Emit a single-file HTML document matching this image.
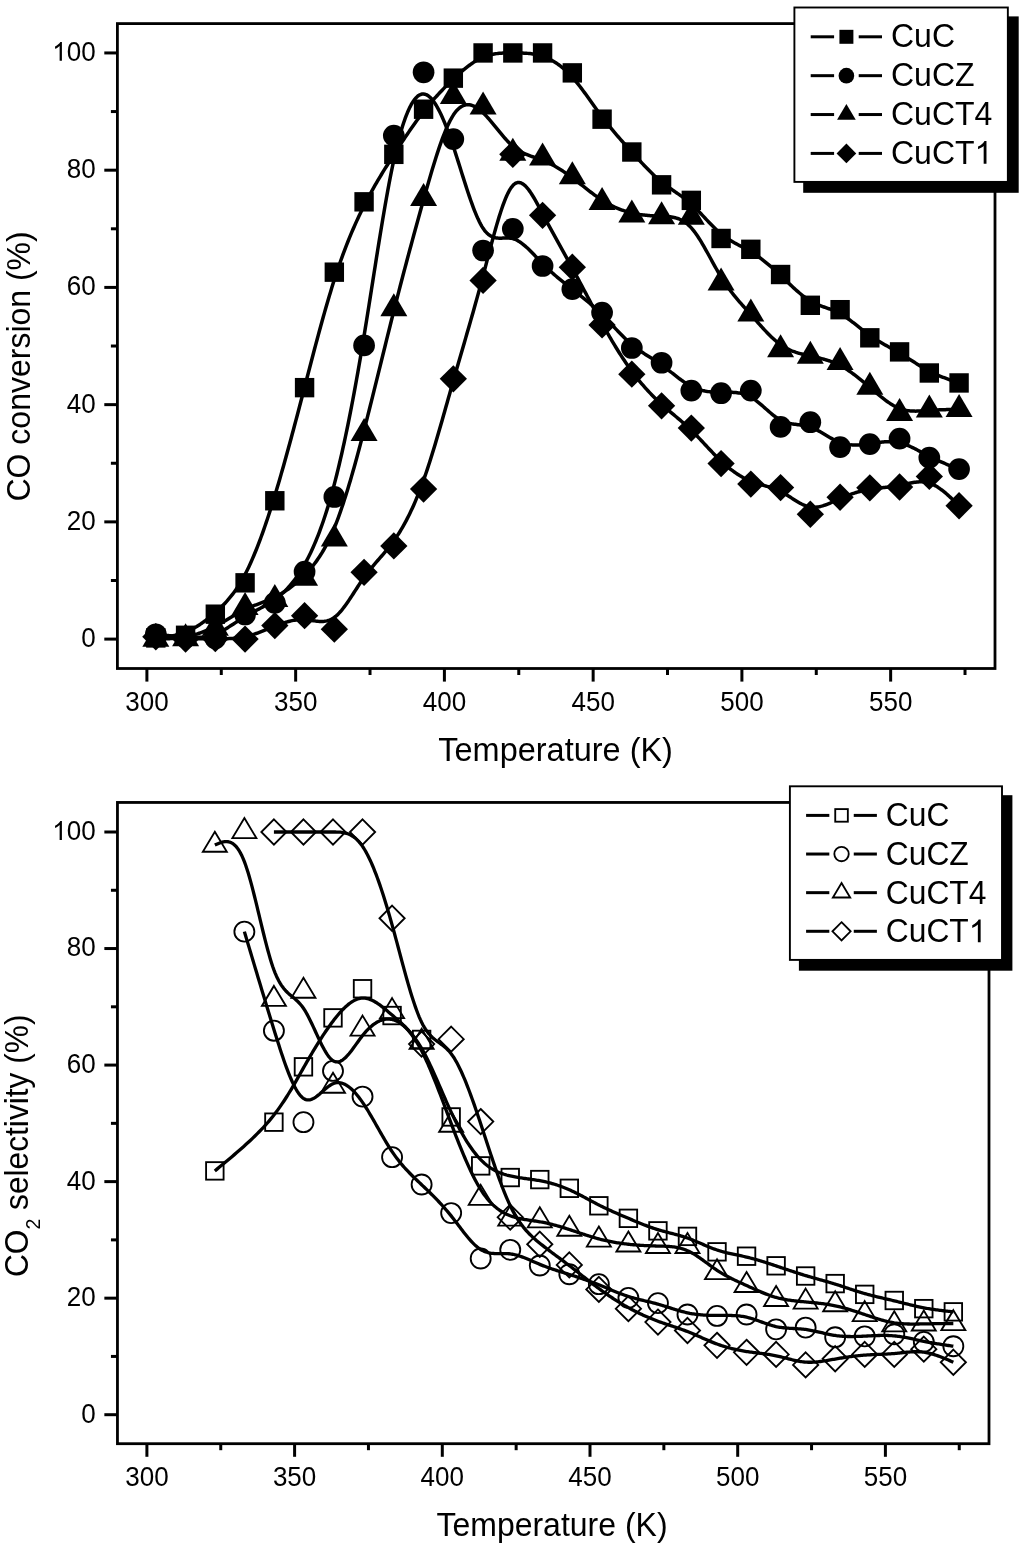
<!DOCTYPE html>
<html><head><meta charset="utf-8"><title>chart</title>
<style>
html,body{margin:0;padding:0;background:#fff;}
body{width:1024px;height:1548px;overflow:hidden;}
svg{display:block;will-change:transform;}
text{font-family:"Liberation Sans",sans-serif;fill:#000;}
.tk{font-size:26px;}
.ti{font-size:32px;}
.lg{font-size:32px;}
.sub{font-size:19.5px;}
</style></head>
<body>
<svg width="1024" height="1548" viewBox="0 0 1024 1548">
<rect width="1024" height="1548" fill="#fff"/>
<rect x="117.40" y="23.60" width="877.60" height="644.90" fill="none" stroke="#000" stroke-width="2.8"/>
<line x1="146.90" y1="668.50" x2="146.90" y2="681.60" stroke="#000" stroke-width="3"/>
<text transform="translate(146.90 710.70) scale(1 1.060)" class="tk" text-anchor="middle">300</text>
<line x1="221.28" y1="668.50" x2="221.28" y2="675.00" stroke="#000" stroke-width="3"/>
<line x1="295.65" y1="668.50" x2="295.65" y2="681.60" stroke="#000" stroke-width="3"/>
<text transform="translate(295.65 710.70) scale(1 1.060)" class="tk" text-anchor="middle">350</text>
<line x1="370.02" y1="668.50" x2="370.02" y2="675.00" stroke="#000" stroke-width="3"/>
<line x1="444.40" y1="668.50" x2="444.40" y2="681.60" stroke="#000" stroke-width="3"/>
<text transform="translate(444.40 710.70) scale(1 1.060)" class="tk" text-anchor="middle">400</text>
<line x1="518.77" y1="668.50" x2="518.77" y2="675.00" stroke="#000" stroke-width="3"/>
<line x1="593.15" y1="668.50" x2="593.15" y2="681.60" stroke="#000" stroke-width="3"/>
<text transform="translate(593.15 710.70) scale(1 1.060)" class="tk" text-anchor="middle">450</text>
<line x1="667.52" y1="668.50" x2="667.52" y2="675.00" stroke="#000" stroke-width="3"/>
<line x1="741.90" y1="668.50" x2="741.90" y2="681.60" stroke="#000" stroke-width="3"/>
<text transform="translate(741.90 710.70) scale(1 1.060)" class="tk" text-anchor="middle">500</text>
<line x1="816.27" y1="668.50" x2="816.27" y2="675.00" stroke="#000" stroke-width="3"/>
<line x1="890.65" y1="668.50" x2="890.65" y2="681.60" stroke="#000" stroke-width="3"/>
<text transform="translate(890.65 710.70) scale(1 1.060)" class="tk" text-anchor="middle">550</text>
<line x1="965.02" y1="668.50" x2="965.02" y2="675.00" stroke="#000" stroke-width="3"/>
<line x1="117.40" y1="639.10" x2="104.30" y2="639.10" stroke="#000" stroke-width="3"/>
<text transform="translate(95.60 647.00) scale(1 1.060)" class="tk" text-anchor="end">0</text>
<line x1="117.40" y1="580.49" x2="110.90" y2="580.49" stroke="#000" stroke-width="3"/>
<line x1="117.40" y1="521.87" x2="104.30" y2="521.87" stroke="#000" stroke-width="3"/>
<text transform="translate(95.60 529.77) scale(1 1.060)" class="tk" text-anchor="end">20</text>
<line x1="117.40" y1="463.25" x2="110.90" y2="463.25" stroke="#000" stroke-width="3"/>
<line x1="117.40" y1="404.64" x2="104.30" y2="404.64" stroke="#000" stroke-width="3"/>
<text transform="translate(95.60 412.54) scale(1 1.060)" class="tk" text-anchor="end">40</text>
<line x1="117.40" y1="346.02" x2="110.90" y2="346.02" stroke="#000" stroke-width="3"/>
<line x1="117.40" y1="287.41" x2="104.30" y2="287.41" stroke="#000" stroke-width="3"/>
<text transform="translate(95.60 295.31) scale(1 1.060)" class="tk" text-anchor="end">60</text>
<line x1="117.40" y1="228.80" x2="110.90" y2="228.80" stroke="#000" stroke-width="3"/>
<line x1="117.40" y1="170.18" x2="104.30" y2="170.18" stroke="#000" stroke-width="3"/>
<text transform="translate(95.60 178.08) scale(1 1.060)" class="tk" text-anchor="end">80</text>
<line x1="117.40" y1="111.56" x2="110.90" y2="111.56" stroke="#000" stroke-width="3"/>
<line x1="117.40" y1="52.95" x2="104.30" y2="52.95" stroke="#000" stroke-width="3"/>
<path transform="translate(52.22 60.85) scale(0.01270 -0.01346)" d="M763 0H583V1100Q519 1041 413 982Q307 922 223 892V1059Q369 1127 479 1224Q589 1321 638 1409H763Z" fill="#000"/>
<text transform="translate(66.68 60.85) scale(1 1.060)" class="tk" text-anchor="start">00</text>
<path d="M155.83 637.93L157.06 637.82L158.30 637.71L159.54 637.59L160.78 637.47L162.02 637.35L163.26 637.22L164.50 637.08L165.74 636.93L166.98 636.78L168.22 636.61L169.46 636.42L170.70 636.22L171.94 636.01L173.18 635.78L174.42 635.53L175.66 635.26L176.90 634.97L178.14 634.65L179.38 634.31L180.62 633.95L181.86 633.56L183.10 633.14L184.34 632.69L185.57 632.21L186.81 631.70L188.05 631.16L189.29 630.59L190.53 629.98L191.77 629.35L193.01 628.69L194.25 628.00L195.49 627.28L196.73 626.54L197.97 625.76L199.21 624.96L200.45 624.14L201.69 623.29L202.93 622.42L204.17 621.52L205.41 620.60L206.65 619.66L207.89 618.69L209.13 617.71L210.37 616.70L211.61 615.67L212.85 614.63L214.09 613.56L215.32 612.48L216.56 611.38L217.80 610.25L219.04 609.11L220.28 607.93L221.52 606.73L222.76 605.50L224.00 604.22L225.24 602.92L226.48 601.57L227.72 600.17L228.96 598.73L230.20 597.24L231.44 595.69L232.68 594.09L233.92 592.44L235.16 590.72L236.40 588.93L237.64 587.08L238.88 585.15L240.12 583.16L241.36 581.09L242.60 578.93L243.84 576.70L245.07 574.38L246.31 571.97L247.55 569.48L248.79 566.90L250.03 564.24L251.27 561.49L252.51 558.67L253.75 555.76L254.99 552.78L256.23 549.72L257.47 546.59L258.71 543.38L259.95 540.10L261.19 536.74L262.43 533.32L263.67 529.83L264.91 526.28L266.15 522.65L267.39 518.97L268.63 515.22L269.87 511.41L271.11 507.54L272.35 503.61L273.59 499.63L274.82 495.59L276.06 491.50L277.30 487.35L278.54 483.16L279.78 478.92L281.02 474.63L282.26 470.30L283.50 465.92L284.74 461.51L285.98 457.06L287.22 452.58L288.46 448.06L289.70 443.51L290.94 438.93L292.18 434.33L293.42 429.70L294.66 425.04L295.90 420.37L297.14 415.68L298.38 410.97L299.62 406.25L300.86 401.51L302.10 396.76L303.34 392.01L304.58 387.25L305.81 382.49L307.05 377.72L308.29 372.96L309.53 368.21L310.77 363.46L312.01 358.73L313.25 354.01L314.49 349.31L315.73 344.64L316.97 340.00L318.21 335.38L319.45 330.80L320.69 326.25L321.93 321.75L323.17 317.29L324.41 312.87L325.65 308.51L326.89 304.21L328.13 299.96L329.37 295.77L330.61 291.64L331.85 287.59L333.09 283.60L334.33 279.69L335.56 275.86L336.80 272.10L338.04 268.42L339.28 264.82L340.52 261.28L341.76 257.82L343.00 254.42L344.24 251.09L345.48 247.83L346.72 244.63L347.96 241.49L349.20 238.42L350.44 235.40L351.68 232.44L352.92 229.54L354.16 226.69L355.40 223.89L356.64 221.14L357.88 218.44L359.12 215.79L360.36 213.19L361.60 210.63L362.84 208.12L364.08 205.64L365.31 203.21L366.55 200.81L367.79 198.45L369.03 196.13L370.27 193.83L371.51 191.58L372.75 189.35L373.99 187.15L375.23 184.98L376.47 182.83L377.71 180.71L378.95 178.62L380.19 176.54L381.43 174.49L382.67 172.45L383.91 170.44L385.15 168.44L386.39 166.45L387.63 164.47L388.87 162.51L390.11 160.56L391.35 158.61L392.59 156.68L393.83 154.74L395.06 152.82L396.30 150.90L397.54 148.98L398.78 147.07L400.02 145.17L401.26 143.27L402.50 141.39L403.74 139.51L404.98 137.65L406.22 135.80L407.46 133.96L408.70 132.13L409.94 130.32L411.18 128.52L412.42 126.74L413.66 124.97L414.90 123.23L416.14 121.50L417.38 119.79L418.62 118.10L419.86 116.43L421.10 114.79L422.34 113.16L423.57 111.56L424.81 109.99L426.05 108.44L427.29 106.91L428.53 105.40L429.77 103.92L431.01 102.46L432.25 101.02L433.49 99.60L434.73 98.19L435.97 96.81L437.21 95.45L438.45 94.10L439.69 92.77L440.93 91.46L442.17 90.17L443.41 88.89L444.65 87.62L445.89 86.37L447.13 85.13L448.37 83.91L449.61 82.70L450.85 81.50L452.09 80.31L453.32 79.13L454.56 77.96L455.80 76.81L457.04 75.67L458.28 74.54L459.52 73.43L460.76 72.33L462.00 71.25L463.24 70.20L464.48 69.16L465.72 68.15L466.96 67.16L468.20 66.20L469.44 65.26L470.68 64.36L471.92 63.48L473.16 62.63L474.40 61.82L475.64 61.04L476.88 60.29L478.12 59.59L479.36 58.92L480.60 58.29L481.84 57.70L483.08 57.15L484.31 56.65L485.55 56.19L486.79 55.76L488.03 55.38L489.27 55.03L490.51 54.72L491.75 54.44L492.99 54.19L494.23 53.98L495.47 53.78L496.71 53.62L497.95 53.48L499.19 53.35L500.43 53.25L501.67 53.17L502.91 53.11L504.15 53.05L505.39 53.02L506.63 52.99L507.87 52.97L509.11 52.96L510.35 52.95L511.59 52.95L512.83 52.95L514.06 52.95L515.30 52.95L516.54 52.96L517.78 52.97L519.02 52.98L520.26 53.00L521.50 53.03L522.74 53.07L523.98 53.13L525.22 53.19L526.46 53.27L527.70 53.37L528.94 53.48L530.18 53.61L531.42 53.76L532.66 53.93L533.90 54.13L535.14 54.35L536.38 54.60L537.62 54.87L538.86 55.18L540.10 55.51L541.34 55.87L542.58 56.27L543.81 56.70L545.05 57.17L546.29 57.67L547.53 58.21L548.77 58.79L550.01 59.40L551.25 60.05L552.49 60.74L553.73 61.47L554.97 62.23L556.21 63.04L557.45 63.88L558.69 64.76L559.93 65.69L561.17 66.65L562.41 67.66L563.65 68.71L564.89 69.80L566.13 70.94L567.37 72.12L568.61 73.34L569.85 74.61L571.09 75.92L572.33 77.28L573.56 78.68L574.80 80.12L576.04 81.61L577.28 83.13L578.52 84.69L579.76 86.28L581.00 87.89L582.24 89.53L583.48 91.20L584.72 92.88L585.96 94.58L587.20 96.30L588.44 98.03L589.68 99.76L590.92 101.50L592.16 103.25L593.40 104.99L594.64 106.73L595.88 108.46L597.12 110.19L598.36 111.90L599.60 113.60L600.84 115.28L602.08 116.94L603.31 118.58L604.55 120.19L605.79 121.78L607.03 123.36L608.27 124.91L609.51 126.44L610.75 127.96L611.99 129.46L613.23 130.95L614.47 132.42L615.71 133.87L616.95 135.32L618.19 136.75L619.43 138.17L620.67 139.58L621.91 140.98L623.15 142.38L624.39 143.77L625.63 145.15L626.87 146.53L628.11 147.90L629.35 149.27L630.59 150.64L631.83 152.01L633.06 153.38L634.30 154.74L635.54 156.11L636.78 157.47L638.02 158.82L639.26 160.17L640.50 161.51L641.74 162.84L642.98 164.17L644.22 165.48L645.46 166.78L646.70 168.06L647.94 169.33L649.18 170.58L650.42 171.82L651.66 173.04L652.90 174.24L654.14 175.41L655.38 176.57L656.62 177.70L657.86 178.80L659.10 179.88L660.34 180.93L661.58 181.95L662.81 182.94L664.05 183.91L665.29 184.85L666.53 185.77L667.77 186.67L669.01 187.56L670.25 188.43L671.49 189.30L672.73 190.15L673.97 191.01L675.21 191.86L676.45 192.71L677.69 193.57L678.93 194.43L680.17 195.31L681.41 196.20L682.65 197.10L683.89 198.03L685.13 198.97L686.37 199.94L687.61 200.94L688.85 201.97L690.09 203.03L691.33 204.13L692.56 205.26L693.80 206.44L695.04 207.64L696.28 208.87L697.52 210.13L698.76 211.41L700.00 212.70L701.24 214.01L702.48 215.33L703.72 216.66L704.96 217.99L706.20 219.32L707.44 220.64L708.68 221.96L709.92 223.27L711.16 224.56L712.40 225.83L713.64 227.08L714.88 228.31L716.12 229.51L717.36 230.67L718.60 231.79L719.84 232.88L721.08 233.92L722.31 234.92L723.55 235.87L724.79 236.78L726.03 237.66L727.27 238.49L728.51 239.30L729.75 240.07L730.99 240.82L732.23 241.55L733.47 242.26L734.71 242.95L735.95 243.62L737.19 244.28L738.43 244.94L739.67 245.59L740.91 246.24L742.15 246.89L743.39 247.54L744.63 248.20L745.87 248.87L747.11 249.55L748.35 250.25L749.59 250.96L750.83 251.70L752.06 252.47L753.30 253.25L754.54 254.07L755.78 254.90L757.02 255.76L758.26 256.64L759.50 257.54L760.74 258.46L761.98 259.40L763.22 260.35L764.46 261.33L765.70 262.33L766.94 263.34L768.18 264.37L769.42 265.42L770.66 266.48L771.90 267.55L773.14 268.64L774.38 269.75L775.62 270.86L776.86 271.99L778.10 273.13L779.34 274.28L780.58 275.44L781.81 276.61L783.05 277.79L784.29 278.97L785.53 280.16L786.77 281.35L788.01 282.53L789.25 283.71L790.49 284.88L791.73 286.05L792.97 287.20L794.21 288.34L795.45 289.47L796.69 290.57L797.93 291.66L799.17 292.72L800.41 293.76L801.65 294.77L802.89 295.75L804.13 296.70L805.37 297.62L806.61 298.50L807.85 299.34L809.09 300.14L810.33 300.89L811.56 301.60L812.80 302.27L814.04 302.90L815.28 303.49L816.52 304.06L817.76 304.59L819.00 305.11L820.24 305.60L821.48 306.07L822.72 306.53L823.96 306.98L825.20 307.43L826.44 307.87L827.68 308.32L828.92 308.77L830.16 309.23L831.40 309.70L832.64 310.19L833.88 310.69L835.12 311.22L836.36 311.78L837.60 312.36L838.84 312.98L840.07 313.64L841.31 314.34L842.55 315.07L843.79 315.85L845.03 316.65L846.27 317.49L847.51 318.35L848.75 319.24L849.99 320.15L851.23 321.08L852.47 322.02L853.71 322.98L854.95 323.95L856.19 324.93L857.43 325.92L858.67 326.90L859.91 327.89L861.15 328.88L862.39 329.86L863.63 330.83L864.87 331.79L866.11 332.74L867.35 333.67L868.59 334.58L869.82 335.47L871.06 336.34L872.30 337.19L873.54 338.01L874.78 338.81L876.02 339.60L877.26 340.36L878.50 341.12L879.74 341.86L880.98 342.58L882.22 343.30L883.46 344.01L884.70 344.71L885.94 345.40L887.18 346.09L888.42 346.77L889.66 347.46L890.90 348.14L892.14 348.83L893.38 349.52L894.62 350.21L895.86 350.91L897.10 351.62L898.34 352.33L899.58 353.06L900.81 353.80L902.05 354.55L903.29 355.31L904.53 356.07L905.77 356.85L907.01 357.63L908.25 358.41L909.49 359.20L910.73 359.99L911.97 360.78L913.21 361.57L914.45 362.35L915.69 363.13L916.93 363.91L918.17 364.68L919.41 365.45L920.65 366.20L921.89 366.95L923.13 367.68L924.37 368.40L925.61 369.11L926.85 369.80L928.09 370.48L929.32 371.13L930.56 371.77L931.80 372.39L933.04 372.99L934.28 373.57L935.52 374.14L936.76 374.70L938.00 375.23L939.24 375.76L940.48 376.27L941.72 376.77L942.96 377.26L944.20 377.74L945.44 378.21L946.68 378.67L947.92 379.12L949.16 379.56L950.40 380.00L951.64 380.43L952.88 380.86L954.12 381.28L955.36 381.70L956.60 382.12L957.84 382.54L959.07 382.95" fill="none" stroke="#000" stroke-width="3.5" stroke-linejoin="round"/>
<path d="M155.83 634.29L157.06 634.42L158.30 634.55L159.54 634.67L160.78 634.80L162.02 634.93L163.26 635.05L164.50 635.17L165.74 635.30L166.98 635.42L168.22 635.54L169.46 635.66L170.70 635.77L171.94 635.89L173.18 636.00L174.42 636.11L175.66 636.22L176.90 636.32L178.14 636.43L179.38 636.53L180.62 636.62L181.86 636.72L183.10 636.81L184.34 636.90L185.57 636.98L186.81 637.06L188.05 637.13L189.29 637.20L190.53 637.26L191.77 637.31L193.01 637.34L194.25 637.37L195.49 637.38L196.73 637.37L197.97 637.34L199.21 637.29L200.45 637.22L201.69 637.13L202.93 637.01L204.17 636.87L205.41 636.70L206.65 636.50L207.89 636.26L209.13 636.00L210.37 635.70L211.61 635.36L212.85 634.99L214.09 634.57L215.32 634.12L216.56 633.62L217.80 633.08L219.04 632.51L220.28 631.90L221.52 631.26L222.76 630.59L224.00 629.89L225.24 629.17L226.48 628.42L227.72 627.66L228.96 626.88L230.20 626.09L231.44 625.29L232.68 624.47L233.92 623.66L235.16 622.84L236.40 622.02L237.64 621.20L238.88 620.38L240.12 619.58L241.36 618.78L242.60 618.00L243.84 617.23L245.07 616.48L246.31 615.76L247.55 615.05L248.79 614.35L250.03 613.67L251.27 613.00L252.51 612.35L253.75 611.69L254.99 611.05L256.23 610.40L257.47 609.76L258.71 609.12L259.95 608.47L261.19 607.81L262.43 607.15L263.67 606.47L264.91 605.79L266.15 605.08L267.39 604.36L268.63 603.62L269.87 602.86L271.11 602.07L272.35 601.25L273.59 600.41L274.82 599.53L276.06 598.63L277.30 597.68L278.54 596.70L279.78 595.68L281.02 594.62L282.26 593.52L283.50 592.37L284.74 591.18L285.98 589.94L287.22 588.65L288.46 587.31L289.70 585.91L290.94 584.46L292.18 582.96L293.42 581.40L294.66 579.77L295.90 578.09L297.14 576.34L298.38 574.52L299.62 572.64L300.86 570.69L302.10 568.67L303.34 566.58L304.58 564.41L305.81 562.17L307.05 559.85L308.29 557.45L309.53 554.97L310.77 552.40L312.01 549.74L313.25 546.99L314.49 544.15L315.73 541.22L316.97 538.18L318.21 535.05L319.45 531.82L320.69 528.48L321.93 525.03L323.17 521.48L324.41 517.81L325.65 514.03L326.89 510.13L328.13 506.11L329.37 501.97L330.61 497.71L331.85 493.32L333.09 488.81L334.33 484.16L335.56 479.38L336.80 474.47L338.04 469.43L339.28 464.25L340.52 458.95L341.76 453.53L343.00 447.98L344.24 442.30L345.48 436.50L346.72 430.58L347.96 424.54L349.20 418.38L350.44 412.11L351.68 405.72L352.92 399.21L354.16 392.59L355.40 385.86L356.64 379.02L357.88 372.07L359.12 365.01L360.36 357.84L361.60 350.57L362.84 343.20L364.08 335.72L365.31 328.14L366.55 320.48L367.79 312.74L369.03 304.95L370.27 297.12L371.51 289.26L372.75 281.39L373.99 273.52L375.23 265.66L376.47 257.84L377.71 250.07L378.95 242.36L380.19 234.72L381.43 227.18L382.67 219.74L383.91 212.42L385.15 205.24L386.39 198.21L387.63 191.34L388.87 184.66L390.11 178.17L391.35 171.89L392.59 165.84L393.83 160.02L395.06 154.46L396.30 149.15L397.54 144.09L398.78 139.28L400.02 134.72L401.26 130.41L402.50 126.35L403.74 122.54L404.98 118.96L406.22 115.64L407.46 112.55L408.70 109.71L409.94 107.11L411.18 104.74L412.42 102.61L413.66 100.72L414.90 99.07L416.14 97.65L417.38 96.46L418.62 95.51L419.86 94.78L421.10 94.29L422.34 94.02L423.57 93.98L424.81 94.17L426.05 94.57L427.29 95.19L428.53 96.01L429.77 97.04L431.01 98.26L432.25 99.67L433.49 101.27L434.73 103.04L435.97 104.98L437.21 107.08L438.45 109.34L439.69 111.76L440.93 114.31L442.17 117.01L443.41 119.84L444.65 122.80L445.89 125.88L447.13 129.07L448.37 132.37L449.61 135.78L450.85 139.28L452.09 142.87L453.32 146.54L454.56 150.29L455.80 154.10L457.04 157.97L458.28 161.87L459.52 165.80L460.76 169.74L462.00 173.68L463.24 177.62L464.48 181.52L465.72 185.39L466.96 189.20L468.20 192.95L469.44 196.63L470.68 200.21L471.92 203.70L473.16 207.06L474.40 210.30L475.64 213.40L476.88 216.34L478.12 219.12L479.36 221.72L480.60 224.12L481.84 226.32L483.08 228.31L484.31 230.06L485.55 231.60L486.79 232.93L488.03 234.08L489.27 235.05L490.51 235.86L491.75 236.52L492.99 237.05L494.23 237.45L495.47 237.75L496.71 237.96L497.95 238.09L499.19 238.16L500.43 238.18L501.67 238.16L502.91 238.11L504.15 238.06L505.39 238.01L506.63 237.98L507.87 237.99L509.11 238.04L510.35 238.15L511.59 238.34L512.83 238.61L514.06 238.99L515.30 239.46L516.54 240.02L517.78 240.67L519.02 241.40L520.26 242.21L521.50 243.08L522.74 244.02L523.98 245.03L525.22 246.08L526.46 247.19L527.70 248.34L528.94 249.53L530.18 250.75L531.42 252.00L532.66 253.28L533.90 254.57L535.14 255.87L536.38 257.19L537.62 258.50L538.86 259.81L540.10 261.11L541.34 262.40L542.58 263.67L543.81 264.92L545.05 266.14L546.29 267.34L547.53 268.52L548.77 269.68L550.01 270.82L551.25 271.94L552.49 273.04L553.73 274.13L554.97 275.20L556.21 276.26L557.45 277.31L558.69 278.34L559.93 279.36L561.17 280.37L562.41 281.38L563.65 282.37L564.89 283.36L566.13 284.35L567.37 285.33L568.61 286.30L569.85 287.28L571.09 288.25L572.33 289.22L573.56 290.19L574.80 291.16L576.04 292.14L577.28 293.11L578.52 294.10L579.76 295.08L581.00 296.07L582.24 297.07L583.48 298.08L584.72 299.09L585.96 300.11L587.20 301.15L588.44 302.19L589.68 303.24L590.92 304.31L592.16 305.39L593.40 306.49L594.64 307.59L595.88 308.72L597.12 309.86L598.36 311.02L599.60 312.20L600.84 313.39L602.08 314.61L603.31 315.84L604.55 317.10L605.79 318.37L607.03 319.65L608.27 320.95L609.51 322.25L610.75 323.56L611.99 324.88L613.23 326.20L614.47 327.51L615.71 328.83L616.95 330.13L618.19 331.44L619.43 332.73L620.67 334.00L621.91 335.27L623.15 336.52L624.39 337.74L625.63 338.95L626.87 340.13L628.11 341.29L629.35 342.41L630.59 343.51L631.83 344.57L633.06 345.60L634.30 346.59L635.54 347.55L636.78 348.48L638.02 349.39L639.26 350.28L640.50 351.14L641.74 351.98L642.98 352.81L644.22 353.62L645.46 354.42L646.70 355.22L647.94 356.00L649.18 356.79L650.42 357.57L651.66 358.35L652.90 359.13L654.14 359.92L655.38 360.72L656.62 361.53L657.86 362.35L659.10 363.19L660.34 364.04L661.58 364.92L662.81 365.82L664.05 366.73L665.29 367.67L666.53 368.62L667.77 369.58L669.01 370.55L670.25 371.52L671.49 372.50L672.73 373.48L673.97 374.46L675.21 375.43L676.45 376.40L677.69 377.35L678.93 378.30L680.17 379.22L681.41 380.13L682.65 381.01L683.89 381.87L685.13 382.71L686.37 383.51L687.61 384.28L688.85 385.02L690.09 385.72L691.33 386.37L692.56 386.99L693.80 387.56L695.04 388.09L696.28 388.58L697.52 389.03L698.76 389.45L700.00 389.83L701.24 390.17L702.48 390.49L703.72 390.77L704.96 391.03L706.20 391.26L707.44 391.46L708.68 391.63L709.92 391.78L711.16 391.91L712.40 392.02L713.64 392.11L714.88 392.19L716.12 392.24L717.36 392.28L718.60 392.31L719.84 392.33L721.08 392.33L722.31 392.33L723.55 392.32L724.79 392.30L726.03 392.29L727.27 392.28L728.51 392.28L729.75 392.29L730.99 392.31L732.23 392.35L733.47 392.41L734.71 392.49L735.95 392.59L737.19 392.73L738.43 392.90L739.67 393.10L740.91 393.34L742.15 393.63L743.39 393.96L744.63 394.34L745.87 394.77L747.11 395.25L748.35 395.80L749.59 396.40L750.83 397.07L752.06 397.80L753.30 398.60L754.54 399.45L755.78 400.36L757.02 401.31L758.26 402.29L759.50 403.31L760.74 404.36L761.98 405.43L763.22 406.51L764.46 407.60L765.70 408.70L766.94 409.80L768.18 410.88L769.42 411.96L770.66 413.01L771.90 414.04L773.14 415.04L774.38 416.01L775.62 416.93L776.86 417.80L778.10 418.62L779.34 419.38L780.58 420.08L781.81 420.70L783.05 421.26L784.29 421.76L785.53 422.20L786.77 422.59L788.01 422.93L789.25 423.24L790.49 423.51L791.73 423.75L792.97 423.96L794.21 424.15L795.45 424.33L796.69 424.50L797.93 424.66L799.17 424.83L800.41 425.00L801.65 425.18L802.89 425.38L804.13 425.59L805.37 425.84L806.61 426.11L807.85 426.42L809.09 426.77L810.33 427.17L811.56 427.62L812.80 428.11L814.04 428.65L815.28 429.23L816.52 429.84L817.76 430.48L819.00 431.15L820.24 431.84L821.48 432.55L822.72 433.27L823.96 434.00L825.20 434.74L826.44 435.48L827.68 436.22L828.92 436.95L830.16 437.67L831.40 438.37L832.64 439.06L833.88 439.72L835.12 440.35L836.36 440.95L837.60 441.51L838.84 442.04L840.07 442.52L841.31 442.95L842.55 443.33L843.79 443.67L845.03 443.97L846.27 444.22L847.51 444.44L848.75 444.62L849.99 444.76L851.23 444.87L852.47 444.94L853.71 444.99L854.95 445.01L856.19 445.00L857.43 444.97L858.67 444.91L859.91 444.84L861.15 444.74L862.39 444.63L863.63 444.50L864.87 444.36L866.11 444.21L867.35 444.05L868.59 443.88L869.82 443.71L871.06 443.53L872.30 443.35L873.54 443.17L874.78 442.99L876.02 442.81L877.26 442.64L878.50 442.48L879.74 442.33L880.98 442.19L882.22 442.06L883.46 441.95L884.70 441.85L885.94 441.78L887.18 441.72L888.42 441.69L889.66 441.68L890.90 441.70L892.14 441.75L893.38 441.83L894.62 441.94L895.86 442.09L897.10 442.27L898.34 442.50L899.58 442.76L900.81 443.06L902.05 443.41L903.29 443.79L904.53 444.21L905.77 444.66L907.01 445.14L908.25 445.65L909.49 446.18L910.73 446.74L911.97 447.32L913.21 447.92L914.45 448.54L915.69 449.17L916.93 449.82L918.17 450.47L919.41 451.13L920.65 451.80L921.89 452.47L923.13 453.14L924.37 453.81L925.61 454.48L926.85 455.14L928.09 455.79L929.32 456.43L930.56 457.05L931.80 457.67L933.04 458.27L934.28 458.86L935.52 459.44L936.76 460.01L938.00 460.57L939.24 461.12L940.48 461.67L941.72 462.20L942.96 462.73L944.20 463.24L945.44 463.76L946.68 464.26L947.92 464.76L949.16 465.26L950.40 465.75L951.64 466.24L952.88 466.72L954.12 467.21L955.36 467.69L956.60 468.16L957.84 468.64L959.07 469.12" fill="none" stroke="#000" stroke-width="3.5" stroke-linejoin="round"/>
<path d="M155.83 639.10L157.06 639.08L158.30 639.05L159.54 639.02L160.78 638.99L162.02 638.96L163.26 638.93L164.50 638.89L165.74 638.84L166.98 638.79L168.22 638.74L169.46 638.67L170.70 638.60L171.94 638.52L173.18 638.43L174.42 638.33L175.66 638.22L176.90 638.09L178.14 637.96L179.38 637.81L180.62 637.65L181.86 637.47L183.10 637.28L184.34 637.08L185.57 636.85L186.81 636.61L188.05 636.35L189.29 636.08L190.53 635.79L191.77 635.48L193.01 635.15L194.25 634.81L195.49 634.44L196.73 634.06L197.97 633.67L199.21 633.25L200.45 632.82L201.69 632.38L202.93 631.91L204.17 631.43L205.41 630.93L206.65 630.41L207.89 629.87L209.13 629.32L210.37 628.75L211.61 628.17L212.85 627.56L214.09 626.94L215.32 626.30L216.56 625.65L217.80 624.98L219.04 624.29L220.28 623.59L221.52 622.88L222.76 622.17L224.00 621.44L225.24 620.71L226.48 619.97L227.72 619.23L228.96 618.49L230.20 617.75L231.44 617.02L232.68 616.28L233.92 615.55L235.16 614.83L236.40 614.12L237.64 613.42L238.88 612.72L240.12 612.05L241.36 611.38L242.60 610.74L243.84 610.11L245.07 609.50L246.31 608.91L247.55 608.34L248.79 607.79L250.03 607.26L251.27 606.74L252.51 606.23L253.75 605.73L254.99 605.24L256.23 604.76L257.47 604.28L258.71 603.81L259.95 603.33L261.19 602.86L262.43 602.38L263.67 601.90L264.91 601.42L266.15 600.92L267.39 600.42L268.63 599.90L269.87 599.38L271.11 598.83L272.35 598.27L273.59 597.69L274.82 597.09L276.06 596.47L277.30 595.83L278.54 595.16L279.78 594.47L281.02 593.75L282.26 593.01L283.50 592.25L284.74 591.46L285.98 590.64L287.22 589.80L288.46 588.94L289.70 588.04L290.94 587.12L292.18 586.18L293.42 585.20L294.66 584.20L295.90 583.17L297.14 582.10L298.38 581.01L299.62 579.89L300.86 578.75L302.10 577.56L303.34 576.35L304.58 575.11L305.81 573.84L307.05 572.53L308.29 571.18L309.53 569.79L310.77 568.36L312.01 566.87L313.25 565.34L314.49 563.74L315.73 562.09L316.97 560.38L318.21 558.60L319.45 556.75L320.69 554.82L321.93 552.82L323.17 550.74L324.41 548.58L325.65 546.32L326.89 543.98L328.13 541.55L329.37 539.01L330.61 536.38L331.85 533.64L333.09 530.79L334.33 527.83L335.56 524.76L336.80 521.57L338.04 518.28L339.28 514.88L340.52 511.38L341.76 507.78L343.00 504.09L344.24 500.31L345.48 496.44L346.72 492.48L347.96 488.45L349.20 484.33L350.44 480.14L351.68 475.88L352.92 471.56L354.16 467.17L355.40 462.71L356.64 458.21L357.88 453.64L359.12 449.03L360.36 444.37L361.60 439.66L362.84 434.92L364.08 430.14L365.31 425.32L366.55 420.48L367.79 415.60L369.03 410.70L370.27 405.77L371.51 400.83L372.75 395.86L373.99 390.88L375.23 385.88L376.47 380.88L377.71 375.86L378.95 370.84L380.19 365.81L381.43 360.78L382.67 355.76L383.91 350.73L385.15 345.71L386.39 340.70L387.63 335.70L388.87 330.72L390.11 325.75L391.35 320.79L392.59 315.86L393.83 310.95L395.06 306.07L396.30 301.21L397.54 296.38L398.78 291.57L400.02 286.78L401.26 282.01L402.50 277.27L403.74 272.55L404.98 267.86L406.22 263.18L407.46 258.52L408.70 253.89L409.94 249.27L411.18 244.68L412.42 240.10L413.66 235.54L414.90 231.00L416.14 226.48L417.38 221.97L418.62 217.48L419.86 213.01L421.10 208.55L422.34 204.11L423.57 199.68L424.81 195.27L426.05 190.88L427.29 186.52L428.53 182.20L429.77 177.92L431.01 173.69L432.25 169.52L433.49 165.42L434.73 161.39L435.97 157.45L437.21 153.59L438.45 149.84L439.69 146.18L440.93 142.64L442.17 139.22L443.41 135.93L444.65 132.77L445.89 129.76L447.13 126.89L448.37 124.18L449.61 121.64L450.85 119.27L452.09 117.08L453.32 115.08L454.56 113.27L455.80 111.66L457.04 110.22L458.28 108.97L459.52 107.88L460.76 106.97L462.00 106.22L463.24 105.62L464.48 105.18L465.72 104.88L466.96 104.72L468.20 104.69L469.44 104.79L470.68 105.02L471.92 105.36L473.16 105.82L474.40 106.38L475.64 107.05L476.88 107.80L478.12 108.65L479.36 109.59L480.60 110.60L481.84 111.68L483.08 112.83L484.31 114.05L485.55 115.32L486.79 116.64L488.03 118.01L489.27 119.42L490.51 120.86L491.75 122.33L492.99 123.82L494.23 125.33L495.47 126.85L496.71 128.38L497.95 129.91L499.19 131.43L500.43 132.94L501.67 134.44L502.91 135.91L504.15 137.36L505.39 138.77L506.63 140.15L507.87 141.48L509.11 142.76L510.35 143.98L511.59 145.15L512.83 146.25L514.06 147.27L515.30 148.23L516.54 149.13L517.78 149.96L519.02 150.74L520.26 151.46L521.50 152.14L522.74 152.78L523.98 153.37L525.22 153.93L526.46 154.45L527.70 154.95L528.94 155.43L530.18 155.88L531.42 156.32L532.66 156.75L533.90 157.16L535.14 157.58L536.38 157.99L537.62 158.41L538.86 158.84L540.10 159.28L541.34 159.74L542.58 160.22L543.81 160.72L545.05 161.24L546.29 161.79L547.53 162.36L548.77 162.95L550.01 163.57L551.25 164.20L552.49 164.86L553.73 165.54L554.97 166.24L556.21 166.95L557.45 167.69L558.69 168.44L559.93 169.21L561.17 170.00L562.41 170.81L563.65 171.63L564.89 172.47L566.13 173.32L567.37 174.19L568.61 175.07L569.85 175.97L571.09 176.88L572.33 177.80L573.56 178.73L574.80 179.68L576.04 180.63L577.28 181.59L578.52 182.56L579.76 183.53L581.00 184.51L582.24 185.49L583.48 186.47L584.72 187.44L585.96 188.42L587.20 189.39L588.44 190.35L589.68 191.31L590.92 192.26L592.16 193.20L593.40 194.13L594.64 195.04L595.88 195.94L597.12 196.82L598.36 197.69L599.60 198.54L600.84 199.37L602.08 200.17L603.31 200.95L604.55 201.71L605.79 202.45L607.03 203.16L608.27 203.85L609.51 204.52L610.75 205.17L611.99 205.79L613.23 206.39L614.47 206.97L615.71 207.53L616.95 208.07L618.19 208.59L619.43 209.09L620.67 209.56L621.91 210.02L623.15 210.46L624.39 210.87L625.63 211.27L626.87 211.65L628.11 212.01L629.35 212.35L630.59 212.67L631.83 212.97L633.06 213.25L634.30 213.52L635.54 213.77L636.78 214.00L638.02 214.22L639.26 214.42L640.50 214.61L641.74 214.79L642.98 214.95L644.22 215.10L645.46 215.24L646.70 215.36L647.94 215.48L649.18 215.59L650.42 215.69L651.66 215.78L652.90 215.86L654.14 215.94L655.38 216.01L656.62 216.07L657.86 216.13L659.10 216.19L660.34 216.24L661.58 216.29L662.81 216.34L664.05 216.39L665.29 216.45L666.53 216.52L667.77 216.61L669.01 216.72L670.25 216.86L671.49 217.02L672.73 217.23L673.97 217.48L675.21 217.77L676.45 218.11L677.69 218.51L678.93 218.97L680.17 219.49L681.41 220.08L682.65 220.75L683.89 221.50L685.13 222.33L686.37 223.25L687.61 224.26L688.85 225.38L690.09 226.59L691.33 227.92L692.56 229.35L693.80 230.89L695.04 232.53L696.28 234.26L697.52 236.08L698.76 237.97L700.00 239.93L701.24 241.95L702.48 244.03L703.72 246.16L704.96 248.33L706.20 250.53L707.44 252.76L708.68 255.01L709.92 257.27L711.16 259.53L712.40 261.79L713.64 264.05L714.88 266.28L716.12 268.49L717.36 270.67L718.60 272.82L719.84 274.91L721.08 276.96L722.31 278.94L723.55 280.87L724.79 282.74L726.03 284.57L727.27 286.34L728.51 288.07L729.75 289.75L730.99 291.40L732.23 293.00L733.47 294.58L734.71 296.12L735.95 297.63L737.19 299.12L738.43 300.58L739.67 302.02L740.91 303.45L742.15 304.86L743.39 306.26L744.63 307.65L745.87 309.03L747.11 310.42L748.35 311.80L749.59 313.18L750.83 314.57L752.06 315.96L753.30 317.37L754.54 318.77L755.78 320.18L757.02 321.58L758.26 322.98L759.50 324.37L760.74 325.76L761.98 327.13L763.22 328.49L764.46 329.83L765.70 331.15L766.94 332.45L768.18 333.73L769.42 334.98L770.66 336.21L771.90 337.40L773.14 338.55L774.38 339.68L775.62 340.76L776.86 341.80L778.10 342.80L779.34 343.75L780.58 344.66L781.81 345.51L783.05 346.32L784.29 347.08L785.53 347.79L786.77 348.46L788.01 349.09L789.25 349.69L790.49 350.24L791.73 350.77L792.97 351.26L794.21 351.72L795.45 352.16L796.69 352.56L797.93 352.95L799.17 353.31L800.41 353.66L801.65 353.99L802.89 354.30L804.13 354.60L805.37 354.89L806.61 355.17L807.85 355.45L809.09 355.72L810.33 355.99L811.56 356.26L812.80 356.53L814.04 356.80L815.28 357.08L816.52 357.36L817.76 357.65L819.00 357.95L820.24 358.25L821.48 358.57L822.72 358.90L823.96 359.24L825.20 359.59L826.44 359.96L827.68 360.35L828.92 360.76L830.16 361.19L831.40 361.63L832.64 362.10L833.88 362.60L835.12 363.12L836.36 363.66L837.60 364.23L838.84 364.83L840.07 365.47L841.31 366.13L842.55 366.82L843.79 367.54L845.03 368.29L846.27 369.07L847.51 369.87L848.75 370.70L849.99 371.55L851.23 372.42L852.47 373.32L853.71 374.23L854.95 375.16L856.19 376.11L857.43 377.08L858.67 378.05L859.91 379.05L861.15 380.05L862.39 381.07L863.63 382.10L864.87 383.14L866.11 384.18L867.35 385.23L868.59 386.29L869.82 387.35L871.06 388.41L872.30 389.48L873.54 390.54L874.78 391.60L876.02 392.65L877.26 393.70L878.50 394.73L879.74 395.75L880.98 396.76L882.22 397.74L883.46 398.71L884.70 399.66L885.94 400.58L887.18 401.47L888.42 402.34L889.66 403.17L890.90 403.98L892.14 404.74L893.38 405.47L894.62 406.15L895.86 406.80L897.10 407.40L898.34 407.95L899.58 408.45L900.81 408.90L902.05 409.30L903.29 409.66L904.53 409.97L905.77 410.23L907.01 410.46L908.25 410.65L909.49 410.80L910.73 410.92L911.97 411.01L913.21 411.08L914.45 411.11L915.69 411.13L916.93 411.12L918.17 411.09L919.41 411.05L920.65 410.99L921.89 410.92L923.13 410.85L924.37 410.76L925.61 410.67L926.85 410.58L928.09 410.49L929.32 410.40L930.56 410.32L931.80 410.24L933.04 410.17L934.28 410.10L935.52 410.04L936.76 409.97L938.00 409.92L939.24 409.86L940.48 409.81L941.72 409.77L942.96 409.72L944.20 409.68L945.44 409.64L946.68 409.61L947.92 409.57L949.16 409.54L950.40 409.51L951.64 409.48L952.88 409.46L954.12 409.43L955.36 409.40L956.60 409.38L957.84 409.35L959.07 409.33" fill="none" stroke="#000" stroke-width="3.5" stroke-linejoin="round"/>
<path d="M155.83 636.76L157.06 636.85L158.30 636.95L159.54 637.05L160.78 637.14L162.02 637.24L163.26 637.33L164.50 637.43L165.74 637.52L166.98 637.61L168.22 637.70L169.46 637.78L170.70 637.87L171.94 637.95L173.18 638.03L174.42 638.10L175.66 638.17L176.90 638.24L178.14 638.31L179.38 638.37L180.62 638.43L181.86 638.48L183.10 638.53L184.34 638.57L185.57 638.61L186.81 638.65L188.05 638.68L189.29 638.70L190.53 638.72L191.77 638.74L193.01 638.75L194.25 638.76L195.49 638.77L196.73 638.77L197.97 638.77L199.21 638.77L200.45 638.77L201.69 638.77L202.93 638.76L204.17 638.76L205.41 638.75L206.65 638.74L207.89 638.74L209.13 638.73L210.37 638.72L211.61 638.72L212.85 638.71L214.09 638.71L215.32 638.71L216.56 638.71L217.80 638.71L219.04 638.71L220.28 638.71L221.52 638.71L222.76 638.71L224.00 638.70L225.24 638.68L226.48 638.66L227.72 638.63L228.96 638.59L230.20 638.54L231.44 638.48L232.68 638.40L233.92 638.32L235.16 638.22L236.40 638.10L237.64 637.97L238.88 637.82L240.12 637.65L241.36 637.46L242.60 637.25L243.84 637.01L245.07 636.76L246.31 636.47L247.55 636.17L248.79 635.85L250.03 635.50L251.27 635.13L252.51 634.75L253.75 634.35L254.99 633.93L256.23 633.50L257.47 633.06L258.71 632.60L259.95 632.14L261.19 631.66L262.43 631.18L263.67 630.69L264.91 630.20L266.15 629.70L267.39 629.20L268.63 628.70L269.87 628.19L271.11 627.69L272.35 627.19L273.59 626.70L274.82 626.20L276.06 625.72L277.30 625.24L278.54 624.77L279.78 624.32L281.02 623.87L282.26 623.44L283.50 623.02L284.74 622.62L285.98 622.23L287.22 621.87L288.46 621.52L289.70 621.20L290.94 620.90L292.18 620.62L293.42 620.38L294.66 620.16L295.90 619.96L297.14 619.80L298.38 619.67L299.62 619.58L300.86 619.52L302.10 619.49L303.34 619.51L304.58 619.56L305.81 619.65L307.05 619.78L308.29 619.93L309.53 620.11L310.77 620.30L312.01 620.49L313.25 620.68L314.49 620.87L315.73 621.05L316.97 621.20L318.21 621.33L319.45 621.42L320.69 621.47L321.93 621.47L323.17 621.42L324.41 621.31L325.65 621.13L326.89 620.88L328.13 620.55L329.37 620.12L330.61 619.60L331.85 618.98L333.09 618.26L334.33 617.41L335.56 616.45L336.80 615.37L338.04 614.18L339.28 612.90L340.52 611.52L341.76 610.06L343.00 608.51L344.24 606.90L345.48 605.22L346.72 603.49L347.96 601.70L349.20 599.88L350.44 598.02L351.68 596.13L352.92 594.22L354.16 592.30L355.40 590.38L356.64 588.45L357.88 586.54L359.12 584.64L360.36 582.77L361.60 580.92L362.84 579.12L364.08 577.36L365.31 575.65L366.55 573.99L367.79 572.38L369.03 570.80L370.27 569.26L371.51 567.75L372.75 566.27L373.99 564.80L375.23 563.36L376.47 561.93L377.71 560.51L378.95 559.09L380.19 557.67L381.43 556.25L382.67 554.82L383.91 553.38L385.15 551.92L386.39 550.43L387.63 548.92L388.87 547.38L390.11 545.81L391.35 544.19L392.59 542.53L393.83 540.82L395.06 539.06L396.30 537.25L397.54 535.37L398.78 533.45L400.02 531.46L401.26 529.41L402.50 527.29L403.74 525.12L404.98 522.87L406.22 520.56L407.46 518.18L408.70 515.73L409.94 513.20L411.18 510.60L412.42 507.93L413.66 505.18L414.90 502.34L416.14 499.43L417.38 496.43L418.62 493.35L419.86 490.19L421.10 486.93L422.34 483.59L423.57 480.16L424.81 476.63L426.05 473.02L427.29 469.32L428.53 465.54L429.77 461.69L431.01 457.78L432.25 453.79L433.49 449.75L434.73 445.65L435.97 441.51L437.21 437.31L438.45 433.08L439.69 428.81L440.93 424.51L442.17 420.18L443.41 415.83L444.65 411.46L445.89 407.08L447.13 402.70L448.37 398.30L449.61 393.92L450.85 389.53L452.09 385.16L453.32 380.80L454.56 376.47L455.80 372.15L457.04 367.84L458.28 363.55L459.52 359.26L460.76 354.98L462.00 350.71L463.24 346.43L464.48 342.16L465.72 337.87L466.96 333.58L468.20 329.28L469.44 324.97L470.68 320.64L471.92 316.29L473.16 311.91L474.40 307.51L475.64 303.09L476.88 298.63L478.12 294.14L479.36 289.61L480.60 285.05L481.84 280.44L483.08 275.78L484.31 271.09L485.55 266.36L486.79 261.61L488.03 256.86L489.27 252.13L490.51 247.42L491.75 242.76L492.99 238.16L494.23 233.64L495.47 229.21L496.71 224.89L497.95 220.69L499.19 216.62L500.43 212.72L501.67 208.98L502.91 205.42L504.15 202.07L505.39 198.93L506.63 196.03L507.87 193.37L509.11 190.97L510.35 188.86L511.59 187.03L512.83 185.52L514.06 184.32L515.30 183.44L516.54 182.85L517.78 182.54L519.02 182.50L520.26 182.72L521.50 183.17L522.74 183.85L523.98 184.74L525.22 185.83L526.46 187.10L527.70 188.54L528.94 190.13L530.18 191.87L531.42 193.73L532.66 195.70L533.90 197.77L535.14 199.92L536.38 202.14L537.62 204.42L538.86 206.74L540.10 209.09L541.34 211.44L542.58 213.80L543.81 216.14L545.05 218.47L546.29 220.79L547.53 223.09L548.77 225.38L550.01 227.66L551.25 229.93L552.49 232.19L553.73 234.45L554.97 236.70L556.21 238.94L557.45 241.18L558.69 243.42L559.93 245.66L561.17 247.89L562.41 250.13L563.65 252.37L564.89 254.61L566.13 256.85L567.37 259.10L568.61 261.36L569.85 263.62L571.09 265.89L572.33 268.16L573.56 270.45L574.80 272.75L576.04 275.06L577.28 277.37L578.52 279.69L579.76 282.01L581.00 284.34L582.24 286.67L583.48 289.00L584.72 291.34L585.96 293.67L587.20 296.00L588.44 298.33L589.68 300.66L590.92 302.98L592.16 305.29L593.40 307.60L594.64 309.91L595.88 312.20L597.12 314.49L598.36 316.76L599.60 319.02L600.84 321.27L602.08 323.51L603.31 325.73L604.55 327.93L605.79 330.12L607.03 332.30L608.27 334.45L609.51 336.59L610.75 338.71L611.99 340.81L613.23 342.89L614.47 344.95L615.71 346.98L616.95 349.00L618.19 350.99L619.43 352.96L620.67 354.91L621.91 356.83L623.15 358.72L624.39 360.59L625.63 362.44L626.87 364.25L628.11 366.04L629.35 367.80L630.59 369.53L631.83 371.23L633.06 372.90L634.30 374.54L635.54 376.15L636.78 377.73L638.02 379.29L639.26 380.81L640.50 382.31L641.74 383.78L642.98 385.23L644.22 386.65L645.46 388.05L646.70 389.42L647.94 390.77L649.18 392.10L650.42 393.41L651.66 394.69L652.90 395.95L654.14 397.19L655.38 398.42L656.62 399.62L657.86 400.80L659.10 401.97L660.34 403.12L661.58 404.25L662.81 405.36L664.05 406.47L665.29 407.55L666.53 408.63L667.77 409.70L669.01 410.76L670.25 411.81L671.49 412.86L672.73 413.90L673.97 414.94L675.21 415.98L676.45 417.03L677.69 418.08L678.93 419.13L680.17 420.19L681.41 421.25L682.65 422.33L683.89 423.42L685.13 424.52L686.37 425.64L687.61 426.77L688.85 427.92L690.09 429.09L691.33 430.28L692.56 431.50L693.80 432.73L695.04 433.99L696.28 435.26L697.52 436.54L698.76 437.84L700.00 439.15L701.24 440.47L702.48 441.79L703.72 443.12L704.96 444.45L706.20 445.78L707.44 447.11L708.68 448.44L709.92 449.76L711.16 451.07L712.40 452.37L713.64 453.67L714.88 454.94L716.12 456.21L717.36 457.45L718.60 458.68L719.84 459.88L721.08 461.06L722.31 462.21L723.55 463.34L724.79 464.44L726.03 465.51L727.27 466.56L728.51 467.58L729.75 468.58L730.99 469.54L732.23 470.48L733.47 471.40L734.71 472.28L735.95 473.14L737.19 473.97L738.43 474.77L739.67 475.55L740.91 476.29L742.15 477.01L743.39 477.70L744.63 478.36L745.87 478.99L747.11 479.60L748.35 480.17L749.59 480.71L750.83 481.23L752.06 481.72L753.30 482.18L754.54 482.61L755.78 483.03L757.02 483.43L758.26 483.81L759.50 484.18L760.74 484.54L761.98 484.89L763.22 485.25L764.46 485.60L765.70 485.95L766.94 486.31L768.18 486.68L769.42 487.05L770.66 487.45L771.90 487.86L773.14 488.28L774.38 488.74L775.62 489.21L776.86 489.72L778.10 490.26L779.34 490.83L780.58 491.44L781.81 492.09L783.05 492.77L784.29 493.48L785.53 494.22L786.77 494.99L788.01 495.76L789.25 496.55L790.49 497.34L791.73 498.14L792.97 498.93L794.21 499.72L795.45 500.49L796.69 501.24L797.93 501.97L799.17 502.68L800.41 503.35L801.65 503.98L802.89 504.57L804.13 505.12L805.37 505.61L806.61 506.05L807.85 506.42L809.09 506.73L810.33 506.97L811.56 507.14L812.80 507.23L814.04 507.25L815.28 507.21L816.52 507.11L817.76 506.95L819.00 506.74L820.24 506.47L821.48 506.17L822.72 505.81L823.96 505.42L825.20 505.00L826.44 504.54L827.68 504.06L828.92 503.55L830.16 503.02L831.40 502.48L832.64 501.92L833.88 501.36L835.12 500.79L836.36 500.21L837.60 499.64L838.84 499.08L840.07 498.52L841.31 497.98L842.55 497.45L843.79 496.93L845.03 496.43L846.27 495.94L847.51 495.47L848.75 495.00L849.99 494.55L851.23 494.12L852.47 493.70L853.71 493.29L854.95 492.90L856.19 492.52L857.43 492.15L858.67 491.80L859.91 491.47L861.15 491.14L862.39 490.84L863.63 490.54L864.87 490.26L866.11 490.00L867.35 489.75L868.59 489.51L869.82 489.29L871.06 489.08L872.30 488.89L873.54 488.71L874.78 488.54L876.02 488.38L877.26 488.23L878.50 488.08L879.74 487.94L880.98 487.80L882.22 487.67L883.46 487.54L884.70 487.41L885.94 487.28L887.18 487.14L888.42 487.00L889.66 486.86L890.90 486.71L892.14 486.56L893.38 486.39L894.62 486.21L895.86 486.03L897.10 485.83L898.34 485.61L899.58 485.38L900.81 485.14L902.05 484.88L903.29 484.61L904.53 484.33L905.77 484.06L907.01 483.78L908.25 483.51L909.49 483.25L910.73 482.99L911.97 482.76L913.21 482.54L914.45 482.35L915.69 482.18L916.93 482.04L918.17 481.94L919.41 481.87L920.65 481.84L921.89 481.86L923.13 481.92L924.37 482.04L925.61 482.21L926.85 482.44L928.09 482.73L929.32 483.09L930.56 483.51L931.80 484.00L933.04 484.56L934.28 485.17L935.52 485.85L936.76 486.57L938.00 487.35L939.24 488.18L940.48 489.06L941.72 489.97L942.96 490.93L944.20 491.93L945.44 492.96L946.68 494.02L947.92 495.11L949.16 496.23L950.40 497.37L951.64 498.53L952.88 499.71L954.12 500.90L955.36 502.10L956.60 503.31L957.84 504.53L959.07 505.75" fill="none" stroke="#000" stroke-width="3.5" stroke-linejoin="round"/>
<rect x="146.13" y="628.23" width="19.40" height="19.40" fill="#000"/>
<rect x="175.88" y="625.59" width="19.40" height="19.40" fill="#000"/>
<rect x="205.62" y="604.49" width="19.40" height="19.40" fill="#000"/>
<rect x="235.38" y="573.13" width="19.40" height="19.40" fill="#000"/>
<rect x="265.12" y="491.07" width="19.40" height="19.40" fill="#000"/>
<rect x="294.88" y="377.94" width="19.40" height="19.40" fill="#000"/>
<rect x="324.63" y="262.47" width="19.40" height="19.40" fill="#000"/>
<rect x="354.38" y="192.13" width="19.40" height="19.40" fill="#000"/>
<rect x="384.13" y="144.65" width="19.40" height="19.40" fill="#000"/>
<rect x="413.88" y="99.52" width="19.40" height="19.40" fill="#000"/>
<rect x="443.63" y="68.45" width="19.40" height="19.40" fill="#000"/>
<rect x="473.38" y="43.25" width="19.40" height="19.40" fill="#000"/>
<rect x="503.13" y="43.25" width="19.40" height="19.40" fill="#000"/>
<rect x="532.88" y="43.25" width="19.40" height="19.40" fill="#000"/>
<rect x="562.62" y="63.18" width="19.40" height="19.40" fill="#000"/>
<rect x="592.38" y="109.48" width="19.40" height="19.40" fill="#000"/>
<rect x="622.12" y="142.31" width="19.40" height="19.40" fill="#000"/>
<rect x="651.88" y="175.13" width="19.40" height="19.40" fill="#000"/>
<rect x="681.62" y="190.67" width="19.40" height="19.40" fill="#000"/>
<rect x="711.38" y="228.77" width="19.40" height="19.40" fill="#000"/>
<rect x="741.12" y="239.61" width="19.40" height="19.40" fill="#000"/>
<rect x="770.88" y="264.81" width="19.40" height="19.40" fill="#000"/>
<rect x="800.62" y="295.59" width="19.40" height="19.40" fill="#000"/>
<rect x="830.38" y="299.98" width="19.40" height="19.40" fill="#000"/>
<rect x="860.12" y="328.12" width="19.40" height="19.40" fill="#000"/>
<rect x="889.88" y="342.19" width="19.40" height="19.40" fill="#000"/>
<rect x="919.62" y="363.29" width="19.40" height="19.40" fill="#000"/>
<rect x="949.38" y="373.25" width="19.40" height="19.40" fill="#000"/>
<circle cx="155.83" cy="634.29" r="10.85" fill="#000"/>
<circle cx="185.58" cy="637.34" r="10.85" fill="#000"/>
<circle cx="215.32" cy="638.22" r="10.85" fill="#000"/>
<circle cx="245.07" cy="614.48" r="10.85" fill="#000"/>
<circle cx="274.82" cy="602.76" r="10.85" fill="#000"/>
<circle cx="304.58" cy="571.69" r="10.85" fill="#000"/>
<circle cx="334.33" cy="496.96" r="10.85" fill="#000"/>
<circle cx="364.08" cy="345.44" r="10.85" fill="#000"/>
<circle cx="393.83" cy="135.60" r="10.85" fill="#000"/>
<circle cx="423.58" cy="72.29" r="10.85" fill="#000"/>
<circle cx="453.33" cy="139.11" r="10.85" fill="#000"/>
<circle cx="483.08" cy="250.48" r="10.85" fill="#000"/>
<circle cx="512.83" cy="228.80" r="10.85" fill="#000"/>
<circle cx="542.58" cy="266.02" r="10.85" fill="#000"/>
<circle cx="572.33" cy="289.17" r="10.85" fill="#000"/>
<circle cx="602.08" cy="312.61" r="10.85" fill="#000"/>
<circle cx="631.83" cy="348.02" r="10.85" fill="#000"/>
<circle cx="661.58" cy="362.73" r="10.85" fill="#000"/>
<circle cx="691.33" cy="390.57" r="10.85" fill="#000"/>
<circle cx="721.08" cy="393.21" r="10.85" fill="#000"/>
<circle cx="750.83" cy="390.57" r="10.85" fill="#000"/>
<circle cx="780.58" cy="426.91" r="10.85" fill="#000"/>
<circle cx="810.33" cy="422.22" r="10.85" fill="#000"/>
<circle cx="840.08" cy="447.19" r="10.85" fill="#000"/>
<circle cx="869.83" cy="444.09" r="10.85" fill="#000"/>
<circle cx="899.58" cy="438.70" r="10.85" fill="#000"/>
<circle cx="929.33" cy="457.69" r="10.85" fill="#000"/>
<circle cx="959.08" cy="469.12" r="10.85" fill="#000"/>
<polygon points="155.83,623.77 169.33,646.77 142.33,646.77" fill="#000"/>
<polygon points="185.58,623.18 199.08,646.18 172.08,646.18" fill="#000"/>
<polygon points="215.32,612.63 228.82,635.63 201.82,635.63" fill="#000"/>
<polygon points="245.07,592.11 258.57,615.11 231.57,615.11" fill="#000"/>
<polygon points="274.82,583.91 288.32,606.91 261.32,606.91" fill="#000"/>
<polygon points="304.58,562.81 318.08,585.81 291.08,585.81" fill="#000"/>
<polygon points="334.33,523.54 347.83,546.54 320.83,546.54" fill="#000"/>
<polygon points="364.08,418.03 377.58,441.03 350.58,441.03" fill="#000"/>
<polygon points="393.83,293.18 407.33,316.18 380.33,316.18" fill="#000"/>
<polygon points="423.58,182.98 437.08,205.98 410.08,205.98" fill="#000"/>
<polygon points="453.33,80.99 466.83,103.99 439.83,103.99" fill="#000"/>
<polygon points="483.08,91.54 496.58,114.54 469.58,114.54" fill="#000"/>
<polygon points="512.83,137.85 526.33,160.85 499.33,160.85" fill="#000"/>
<polygon points="542.58,142.54 556.08,165.54 529.08,165.54" fill="#000"/>
<polygon points="572.33,161.29 585.83,184.29 558.83,184.29" fill="#000"/>
<polygon points="602.08,187.08 615.58,210.08 588.58,210.08" fill="#000"/>
<polygon points="631.83,199.39 645.33,222.39 618.33,222.39" fill="#000"/>
<polygon points="661.58,201.15 675.08,224.15 648.08,224.15" fill="#000"/>
<polygon points="691.33,201.74 704.83,224.74 677.83,224.74" fill="#000"/>
<polygon points="721.08,267.39 734.58,290.39 707.58,290.39" fill="#000"/>
<polygon points="750.83,298.45 764.33,321.45 737.33,321.45" fill="#000"/>
<polygon points="780.58,334.21 794.08,357.21 767.08,357.21" fill="#000"/>
<polygon points="810.33,340.66 823.83,363.66 796.83,363.66" fill="#000"/>
<polygon points="840.08,347.10 853.58,370.10 826.58,370.10" fill="#000"/>
<polygon points="869.83,371.72 883.33,394.72 856.33,394.72" fill="#000"/>
<polygon points="899.58,398.10 913.08,421.10 886.08,421.10" fill="#000"/>
<polygon points="929.33,394.58 942.83,417.58 915.83,417.58" fill="#000"/>
<polygon points="959.08,394.00 972.58,417.00 945.58,417.00" fill="#000"/>
<polygon points="155.83,623.11 169.48,636.76 155.83,650.41 142.18,636.76" fill="#000"/>
<polygon points="185.58,625.45 199.23,639.10 185.58,652.75 171.93,639.10" fill="#000"/>
<polygon points="215.32,624.86 228.97,638.51 215.32,652.16 201.67,638.51" fill="#000"/>
<polygon points="245.07,625.45 258.72,639.10 245.07,652.75 231.42,639.10" fill="#000"/>
<polygon points="274.82,611.97 288.47,625.62 274.82,639.27 261.18,625.62" fill="#000"/>
<polygon points="304.58,602.00 318.23,615.65 304.58,629.30 290.93,615.65" fill="#000"/>
<polygon points="334.33,615.49 347.98,629.14 334.33,642.79 320.68,629.14" fill="#000"/>
<polygon points="364.08,558.63 377.73,572.28 364.08,585.93 350.43,572.28" fill="#000"/>
<polygon points="393.83,532.25 407.48,545.90 393.83,559.55 380.18,545.90" fill="#000"/>
<polygon points="423.58,475.40 437.23,489.05 423.58,502.70 409.93,489.05" fill="#000"/>
<polygon points="453.33,365.20 466.98,378.85 453.33,392.50 439.68,378.85" fill="#000"/>
<polygon points="483.08,266.73 496.73,280.38 483.08,294.03 469.43,280.38" fill="#000"/>
<polygon points="512.83,140.70 526.48,154.35 512.83,168.00 499.18,154.35" fill="#000"/>
<polygon points="542.58,201.66 556.23,215.31 542.58,228.96 528.93,215.31" fill="#000"/>
<polygon points="572.33,253.54 585.98,267.19 572.33,280.84 558.68,267.19" fill="#000"/>
<polygon points="602.08,311.27 615.73,324.92 602.08,338.57 588.43,324.92" fill="#000"/>
<polygon points="631.83,360.51 645.48,374.16 631.83,387.81 618.18,374.16" fill="#000"/>
<polygon points="661.58,392.16 675.23,405.81 661.58,419.46 647.93,405.81" fill="#000"/>
<polygon points="691.33,414.44 704.98,428.09 691.33,441.74 677.68,428.09" fill="#000"/>
<polygon points="721.08,449.90 734.73,463.55 721.08,477.20 707.43,463.55" fill="#000"/>
<polygon points="750.83,470.41 764.48,484.06 750.83,497.71 737.18,484.06" fill="#000"/>
<polygon points="780.58,473.93 794.23,487.58 780.58,501.23 766.93,487.58" fill="#000"/>
<polygon points="810.33,500.60 823.98,514.25 810.33,527.90 796.68,514.25" fill="#000"/>
<polygon points="840.08,483.60 853.73,497.25 840.08,510.90 826.43,497.25" fill="#000"/>
<polygon points="869.83,474.22 883.48,487.87 869.83,501.52 856.18,487.87" fill="#000"/>
<polygon points="899.58,473.34 913.23,486.99 899.58,500.64 885.93,486.99" fill="#000"/>
<polygon points="929.33,462.79 942.98,476.44 929.33,490.09 915.68,476.44" fill="#000"/>
<polygon points="959.08,492.10 972.73,505.75 959.08,519.40 945.43,505.75" fill="#000"/>
<rect x="117.45" y="802.45" width="871.55" height="641.25" fill="none" stroke="#000" stroke-width="2.8"/>
<line x1="146.90" y1="1443.70" x2="146.90" y2="1456.80" stroke="#000" stroke-width="3"/>
<text transform="translate(146.90 1485.90) scale(1 1.060)" class="tk" text-anchor="middle">300</text>
<line x1="220.75" y1="1443.70" x2="220.75" y2="1450.20" stroke="#000" stroke-width="3"/>
<line x1="294.60" y1="1443.70" x2="294.60" y2="1456.80" stroke="#000" stroke-width="3"/>
<text transform="translate(294.60 1485.90) scale(1 1.060)" class="tk" text-anchor="middle">350</text>
<line x1="368.45" y1="1443.70" x2="368.45" y2="1450.20" stroke="#000" stroke-width="3"/>
<line x1="442.30" y1="1443.70" x2="442.30" y2="1456.80" stroke="#000" stroke-width="3"/>
<text transform="translate(442.30 1485.90) scale(1 1.060)" class="tk" text-anchor="middle">400</text>
<line x1="516.15" y1="1443.70" x2="516.15" y2="1450.20" stroke="#000" stroke-width="3"/>
<line x1="590.00" y1="1443.70" x2="590.00" y2="1456.80" stroke="#000" stroke-width="3"/>
<text transform="translate(590.00 1485.90) scale(1 1.060)" class="tk" text-anchor="middle">450</text>
<line x1="663.85" y1="1443.70" x2="663.85" y2="1450.20" stroke="#000" stroke-width="3"/>
<line x1="737.70" y1="1443.70" x2="737.70" y2="1456.80" stroke="#000" stroke-width="3"/>
<text transform="translate(737.70 1485.90) scale(1 1.060)" class="tk" text-anchor="middle">500</text>
<line x1="811.55" y1="1443.70" x2="811.55" y2="1450.20" stroke="#000" stroke-width="3"/>
<line x1="885.40" y1="1443.70" x2="885.40" y2="1456.80" stroke="#000" stroke-width="3"/>
<text transform="translate(885.40 1485.90) scale(1 1.060)" class="tk" text-anchor="middle">550</text>
<line x1="959.25" y1="1443.70" x2="959.25" y2="1450.20" stroke="#000" stroke-width="3"/>
<line x1="117.45" y1="1414.70" x2="104.35" y2="1414.70" stroke="#000" stroke-width="3"/>
<text transform="translate(95.60 1422.60) scale(1 1.060)" class="tk" text-anchor="end">0</text>
<line x1="117.45" y1="1356.43" x2="110.95" y2="1356.43" stroke="#000" stroke-width="3"/>
<line x1="117.45" y1="1298.16" x2="104.35" y2="1298.16" stroke="#000" stroke-width="3"/>
<text transform="translate(95.60 1306.06) scale(1 1.060)" class="tk" text-anchor="end">20</text>
<line x1="117.45" y1="1239.89" x2="110.95" y2="1239.89" stroke="#000" stroke-width="3"/>
<line x1="117.45" y1="1181.62" x2="104.35" y2="1181.62" stroke="#000" stroke-width="3"/>
<text transform="translate(95.60 1189.52) scale(1 1.060)" class="tk" text-anchor="end">40</text>
<line x1="117.45" y1="1123.35" x2="110.95" y2="1123.35" stroke="#000" stroke-width="3"/>
<line x1="117.45" y1="1065.08" x2="104.35" y2="1065.08" stroke="#000" stroke-width="3"/>
<text transform="translate(95.60 1072.98) scale(1 1.060)" class="tk" text-anchor="end">60</text>
<line x1="117.45" y1="1006.81" x2="110.95" y2="1006.81" stroke="#000" stroke-width="3"/>
<line x1="117.45" y1="948.54" x2="104.35" y2="948.54" stroke="#000" stroke-width="3"/>
<text transform="translate(95.60 956.44) scale(1 1.060)" class="tk" text-anchor="end">80</text>
<line x1="117.45" y1="890.27" x2="110.95" y2="890.27" stroke="#000" stroke-width="3"/>
<line x1="117.45" y1="832.00" x2="104.35" y2="832.00" stroke="#000" stroke-width="3"/>
<path transform="translate(52.22 839.90) scale(0.01270 -0.01346)" d="M763 0H583V1100Q519 1041 413 982Q307 922 223 892V1059Q369 1127 479 1224Q589 1321 638 1409H763Z" fill="#000"/>
<text transform="translate(66.68 839.90) scale(1 1.060)" class="tk" text-anchor="start">00</text>
<path d="M214.84 1170.90L217.30 1168.87L219.76 1166.84L222.22 1164.81L224.67 1162.77L227.11 1160.74L229.54 1158.70L231.95 1156.66L234.35 1154.62L236.74 1152.57L239.10 1150.52L241.45 1148.46L243.77 1146.40L246.06 1144.34L248.33 1142.26L250.57 1140.18L252.77 1138.09L254.94 1136.00L257.07 1133.90L259.17 1131.78L261.23 1129.66L263.24 1127.53L265.21 1125.39L267.13 1123.24L269.00 1121.08L270.82 1118.90L272.59 1116.72L274.32 1114.53L276.00 1112.32L277.63 1110.11L279.23 1107.90L280.79 1105.67L282.31 1103.44L283.80 1101.21L285.25 1098.98L286.68 1096.74L288.08 1094.50L289.45 1092.26L290.80 1090.03L292.12 1087.79L293.43 1085.56L294.72 1083.33L296.00 1081.10L297.26 1078.88L298.52 1076.67L299.76 1074.46L301.00 1072.26L302.23 1070.07L303.46 1067.90L304.69 1065.73L305.92 1063.57L307.15 1061.43L308.39 1059.30L309.62 1057.19L310.85 1055.09L312.08 1053.01L313.31 1050.95L314.54 1048.91L315.77 1046.88L317.00 1044.88L318.23 1042.90L319.46 1040.94L320.69 1039.01L321.92 1037.10L323.16 1035.21L324.39 1033.36L325.62 1031.53L326.85 1029.73L328.08 1027.95L329.31 1026.21L330.54 1024.50L331.77 1022.83L333.00 1021.18L334.23 1019.57L335.46 1018.00L336.69 1016.47L337.93 1014.98L339.16 1013.53L340.39 1012.14L341.62 1010.79L342.85 1009.49L344.08 1008.25L345.31 1007.07L346.54 1005.95L347.77 1004.89L349.00 1003.90L350.23 1002.98L351.46 1002.12L352.70 1001.34L353.93 1000.64L355.16 1000.01L356.39 999.47L357.62 999.01L358.85 998.64L360.08 998.36L361.31 998.17L362.54 998.07L363.77 998.07L365.00 998.16L366.23 998.34L367.47 998.61L368.70 998.95L369.93 999.37L371.16 999.87L372.39 1000.43L373.62 1001.05L374.85 1001.73L376.08 1002.47L377.31 1003.25L378.54 1004.09L379.77 1004.96L381.00 1005.87L382.24 1006.82L383.47 1007.79L384.70 1008.79L385.93 1009.81L387.16 1010.85L388.39 1011.89L389.62 1012.95L390.85 1014.01L392.08 1015.06L393.31 1016.12L394.54 1017.17L395.77 1018.23L397.01 1019.29L398.24 1020.37L399.47 1021.46L400.70 1022.57L401.93 1023.70L403.16 1024.86L404.39 1026.05L405.62 1027.28L406.85 1028.55L408.08 1029.86L409.31 1031.23L410.54 1032.64L411.78 1034.11L413.01 1035.64L414.24 1037.23L415.47 1038.89L416.70 1040.63L417.93 1042.44L419.16 1044.33L420.39 1046.31L421.62 1048.38L422.85 1050.53L424.08 1052.78L425.31 1055.10L426.55 1057.51L427.78 1059.98L429.01 1062.51L430.24 1065.10L431.47 1067.75L432.70 1070.43L433.93 1073.16L435.16 1075.92L436.39 1078.71L437.62 1081.52L438.85 1084.35L440.08 1087.19L441.32 1090.03L442.55 1092.87L443.78 1095.70L445.01 1098.51L446.24 1101.31L447.47 1104.08L448.70 1106.82L449.93 1109.52L451.16 1112.18L452.39 1114.79L453.62 1117.35L454.85 1119.86L456.09 1122.32L457.32 1124.72L458.55 1127.07L459.78 1129.37L461.01 1131.62L462.24 1133.81L463.47 1135.94L464.70 1138.02L465.93 1140.04L467.16 1142.01L468.39 1143.91L469.62 1145.76L470.86 1147.55L472.09 1149.28L473.32 1150.95L474.55 1152.56L475.78 1154.11L477.01 1155.60L478.24 1157.02L479.47 1158.38L480.70 1159.67L481.93 1160.90L483.16 1162.07L484.39 1163.18L485.63 1164.23L486.86 1165.22L488.09 1166.15L489.32 1167.04L490.55 1167.87L491.78 1168.66L493.01 1169.39L494.24 1170.09L495.47 1170.74L496.70 1171.35L497.93 1171.92L499.16 1172.45L500.40 1172.95L501.63 1173.42L502.86 1173.85L504.09 1174.26L505.32 1174.64L506.55 1175.00L507.78 1175.33L509.01 1175.64L510.24 1175.94L511.47 1176.22L512.70 1176.48L513.93 1176.72L515.17 1176.96L516.40 1177.18L517.63 1177.39L518.86 1177.59L520.09 1177.79L521.32 1177.97L522.55 1178.15L523.78 1178.33L525.01 1178.50L526.24 1178.67L527.47 1178.84L528.70 1179.00L529.94 1179.17L531.17 1179.34L532.40 1179.52L533.63 1179.70L534.86 1179.88L536.09 1180.07L537.32 1180.27L538.55 1180.48L539.78 1180.70L541.01 1180.93L542.24 1181.17L543.47 1181.42L544.71 1181.69L545.94 1181.97L547.17 1182.26L548.40 1182.56L549.63 1182.88L550.86 1183.21L552.09 1183.55L553.32 1183.90L554.55 1184.27L555.78 1184.65L557.01 1185.05L558.24 1185.46L559.48 1185.88L560.71 1186.32L561.94 1186.77L563.17 1187.23L564.40 1187.71L565.63 1188.21L566.86 1188.72L568.09 1189.24L569.32 1189.78L570.55 1190.33L571.78 1190.90L573.01 1191.48L574.25 1192.07L575.48 1192.68L576.71 1193.29L577.94 1193.92L579.17 1194.55L580.40 1195.19L581.63 1195.83L582.86 1196.49L584.09 1197.14L585.32 1197.80L586.55 1198.46L587.78 1199.12L589.02 1199.78L590.25 1200.45L591.48 1201.11L592.71 1201.76L593.94 1202.42L595.17 1203.07L596.40 1203.71L597.63 1204.35L598.86 1204.98L600.09 1205.60L601.32 1206.21L602.55 1206.82L603.79 1207.41L605.02 1208.00L606.25 1208.59L607.48 1209.16L608.71 1209.73L609.94 1210.30L611.17 1210.86L612.40 1211.41L613.63 1211.96L614.86 1212.51L616.09 1213.05L617.32 1213.59L618.56 1214.12L619.79 1214.66L621.02 1215.19L622.25 1215.71L623.48 1216.24L624.71 1216.76L625.94 1217.29L627.17 1217.81L628.40 1218.33L629.63 1218.85L630.86 1219.37L632.09 1219.89L633.33 1220.41L634.56 1220.93L635.79 1221.44L637.02 1221.96L638.25 1222.46L639.48 1222.97L640.71 1223.47L641.94 1223.96L643.17 1224.45L644.40 1224.93L645.63 1225.41L646.86 1225.88L648.10 1226.34L649.33 1226.79L650.56 1227.23L651.79 1227.67L653.02 1228.10L654.25 1228.51L655.48 1228.92L656.71 1229.31L657.94 1229.69L659.17 1230.06L660.40 1230.42L661.63 1230.77L662.87 1231.11L664.10 1231.45L665.33 1231.78L666.56 1232.10L667.79 1232.42L669.02 1232.74L670.25 1233.05L671.48 1233.37L672.71 1233.69L673.94 1234.01L675.17 1234.33L676.40 1234.66L677.64 1234.99L678.87 1235.34L680.10 1235.69L681.33 1236.05L682.56 1236.42L683.79 1236.81L685.02 1237.20L686.25 1237.62L687.48 1238.04L688.71 1238.49L689.94 1238.95L691.17 1239.43L692.41 1239.91L693.64 1240.41L694.87 1240.92L696.10 1241.44L697.33 1241.96L698.56 1242.49L699.79 1243.02L701.02 1243.56L702.25 1244.09L703.48 1244.62L704.71 1245.15L705.94 1245.68L707.18 1246.20L708.41 1246.72L709.64 1247.22L710.87 1247.72L712.10 1248.20L713.33 1248.67L714.56 1249.13L715.79 1249.57L717.02 1249.99L718.25 1250.39L719.48 1250.78L720.71 1251.15L721.95 1251.50L723.18 1251.84L724.41 1252.16L725.64 1252.48L726.87 1252.78L728.10 1253.07L729.33 1253.35L730.56 1253.63L731.79 1253.90L733.02 1254.16L734.25 1254.42L735.48 1254.68L736.72 1254.94L737.95 1255.20L739.18 1255.45L740.41 1255.71L741.64 1255.97L742.87 1256.24L744.10 1256.51L745.33 1256.79L746.56 1257.08L747.79 1257.38L749.02 1257.68L750.25 1257.99L751.49 1258.31L752.72 1258.64L753.95 1258.98L755.18 1259.32L756.41 1259.67L757.64 1260.03L758.87 1260.39L760.10 1260.76L761.33 1261.13L762.56 1261.51L763.79 1261.90L765.02 1262.28L766.26 1262.68L767.49 1263.07L768.72 1263.47L769.95 1263.87L771.18 1264.28L772.41 1264.69L773.64 1265.09L774.87 1265.51L776.10 1265.92L777.33 1266.33L778.56 1266.74L779.79 1267.16L781.03 1267.57L782.26 1267.99L783.49 1268.40L784.72 1268.82L785.95 1269.23L787.18 1269.64L788.41 1270.06L789.64 1270.47L790.87 1270.88L792.10 1271.28L793.33 1271.69L794.56 1272.09L795.80 1272.49L797.03 1272.89L798.26 1273.29L799.49 1273.68L800.72 1274.07L801.95 1274.45L803.18 1274.83L804.41 1275.21L805.64 1275.58L806.87 1275.95L808.10 1276.31L809.33 1276.67L810.57 1277.03L811.80 1277.38L813.03 1277.74L814.26 1278.08L815.49 1278.43L816.72 1278.78L817.95 1279.13L819.18 1279.47L820.41 1279.82L821.64 1280.16L822.87 1280.51L824.10 1280.86L825.34 1281.21L826.57 1281.56L827.80 1281.92L829.03 1282.28L830.26 1282.64L831.49 1283.00L832.72 1283.37L833.95 1283.75L835.18 1284.13L836.41 1284.51L837.64 1284.90L838.87 1285.30L840.11 1285.69L841.34 1286.10L842.57 1286.50L843.80 1286.91L845.03 1287.32L846.26 1287.72L847.49 1288.13L848.72 1288.54L849.95 1288.95L851.18 1289.36L852.41 1289.77L853.64 1290.17L854.88 1290.57L856.11 1290.97L857.34 1291.36L858.57 1291.75L859.80 1292.13L861.03 1292.51L862.26 1292.88L863.49 1293.24L864.72 1293.60L865.95 1293.94L867.18 1294.28L868.41 1294.62L869.65 1294.94L870.88 1295.26L872.11 1295.58L873.34 1295.89L874.57 1296.19L875.80 1296.50L877.03 1296.79L878.26 1297.09L879.49 1297.38L880.72 1297.67L881.95 1297.95L883.18 1298.24L884.42 1298.52L885.65 1298.81L886.88 1299.09L888.11 1299.38L889.34 1299.66L890.57 1299.95L891.80 1300.24L893.03 1300.53L894.26 1300.83L895.49 1301.13L896.72 1301.43L897.95 1301.74L899.19 1302.04L900.42 1302.35L901.65 1302.66L902.88 1302.97L904.11 1303.28L905.34 1303.59L906.57 1303.90L907.80 1304.20L909.03 1304.51L910.26 1304.81L911.49 1305.11L912.72 1305.41L913.96 1305.70L915.19 1305.98L916.42 1306.27L917.65 1306.54L918.88 1306.81L920.11 1307.08L921.34 1307.33L922.57 1307.58L923.80 1307.82L925.03 1308.06L926.26 1308.28L927.49 1308.50L928.73 1308.71L929.96 1308.91L931.19 1309.10L932.42 1309.29L933.65 1309.47L934.88 1309.65L936.11 1309.82L937.34 1309.99L938.57 1310.15L939.80 1310.31L941.03 1310.46L942.26 1310.61L943.50 1310.75L944.73 1310.90L945.96 1311.04L947.19 1311.18L948.42 1311.32L949.65 1311.45L950.88 1311.59L952.11 1311.72L953.34 1311.85" fill="none" stroke="#000" stroke-width="3.3" stroke-linejoin="round"/>
<path d="M244.38 931.64L245.61 935.77L246.84 939.90L248.07 944.02L249.31 948.15L250.54 952.27L251.77 956.39L253.00 960.50L254.23 964.61L255.46 968.72L256.69 972.82L257.92 976.92L259.15 981.01L260.38 985.10L261.61 989.18L262.84 993.25L264.08 997.31L265.31 1001.36L266.54 1005.40L267.77 1009.44L269.00 1013.46L270.23 1017.47L271.46 1021.47L272.69 1025.46L273.92 1029.44L275.15 1033.40L276.38 1037.34L277.61 1041.24L278.85 1045.11L280.08 1048.92L281.31 1052.67L282.54 1056.34L283.77 1059.94L285.00 1063.44L286.23 1066.85L287.46 1070.14L288.69 1073.31L289.92 1076.35L291.15 1079.25L292.38 1082.00L293.62 1084.59L294.85 1087.01L296.08 1089.26L297.31 1091.31L298.54 1093.16L299.77 1094.81L301.00 1096.23L302.23 1097.43L303.46 1098.39L304.69 1099.11L305.92 1099.59L307.15 1099.86L308.39 1099.93L309.62 1099.81L310.85 1099.53L312.08 1099.09L313.31 1098.52L314.54 1097.82L315.77 1097.02L317.00 1096.14L318.23 1095.17L319.46 1094.16L320.69 1093.10L321.92 1092.01L323.16 1090.92L324.39 1089.83L325.62 1088.76L326.85 1087.74L328.08 1086.76L329.31 1085.86L330.54 1085.04L331.77 1084.32L333.00 1083.73L334.23 1083.26L335.46 1082.92L336.69 1082.71L337.93 1082.63L339.16 1082.66L340.39 1082.82L341.62 1083.09L342.85 1083.47L344.08 1083.96L345.31 1084.56L346.54 1085.26L347.77 1086.06L349.00 1086.96L350.23 1087.95L351.46 1089.03L352.70 1090.20L353.93 1091.46L355.16 1092.79L356.39 1094.21L357.62 1095.70L358.85 1097.27L360.08 1098.90L361.31 1100.61L362.54 1102.37L363.77 1104.20L365.00 1106.08L366.23 1108.01L367.47 1109.99L368.70 1112.01L369.93 1114.07L371.16 1116.15L372.39 1118.27L373.62 1120.40L374.85 1122.55L376.08 1124.71L377.31 1126.88L378.54 1129.05L379.77 1131.22L381.00 1133.38L382.24 1135.52L383.47 1137.65L384.70 1139.75L385.93 1141.83L387.16 1143.87L388.39 1145.87L389.62 1147.84L390.85 1149.75L392.08 1151.61L393.31 1153.42L394.54 1155.17L395.77 1156.86L397.01 1158.51L398.24 1160.11L399.47 1161.66L400.70 1163.17L401.93 1164.64L403.16 1166.08L404.39 1167.47L405.62 1168.84L406.85 1170.17L408.08 1171.48L409.31 1172.76L410.54 1174.02L411.78 1175.26L413.01 1176.48L414.24 1177.68L415.47 1178.87L416.70 1180.06L417.93 1181.23L419.16 1182.40L420.39 1183.56L421.62 1184.73L422.85 1185.89L424.08 1187.06L425.31 1188.24L426.55 1189.42L427.78 1190.60L429.01 1191.80L430.24 1193.00L431.47 1194.21L432.70 1195.44L433.93 1196.67L435.16 1197.92L436.39 1199.19L437.62 1200.47L438.85 1201.76L440.08 1203.08L441.32 1204.41L442.55 1205.76L443.78 1207.14L445.01 1208.54L446.24 1209.96L447.47 1211.40L448.70 1212.88L449.93 1214.37L451.16 1215.90L452.39 1217.46L453.62 1219.04L454.85 1220.64L456.09 1222.25L457.32 1223.87L458.55 1225.50L459.78 1227.12L461.01 1228.74L462.24 1230.34L463.47 1231.93L464.70 1233.50L465.93 1235.03L467.16 1236.54L468.39 1238.01L469.62 1239.44L470.86 1240.81L472.09 1242.14L473.32 1243.41L474.55 1244.61L475.78 1245.75L477.01 1246.81L478.24 1247.79L479.47 1248.69L480.70 1249.50L481.93 1250.22L483.16 1250.85L484.39 1251.40L485.63 1251.87L486.86 1252.27L488.09 1252.60L489.32 1252.88L490.55 1253.10L491.78 1253.27L493.01 1253.40L494.24 1253.49L495.47 1253.55L496.70 1253.58L497.93 1253.59L499.16 1253.59L500.40 1253.58L501.63 1253.57L502.86 1253.56L504.09 1253.56L505.32 1253.57L506.55 1253.60L507.78 1253.66L509.01 1253.75L510.24 1253.87L511.47 1254.04L512.70 1254.25L513.93 1254.49L515.17 1254.77L516.40 1255.09L517.63 1255.43L518.86 1255.81L520.09 1256.21L521.32 1256.63L522.55 1257.08L523.78 1257.54L525.01 1258.03L526.24 1258.53L527.47 1259.04L528.70 1259.56L529.94 1260.09L531.17 1260.63L532.40 1261.17L533.63 1261.71L534.86 1262.25L536.09 1262.79L537.32 1263.32L538.55 1263.85L539.78 1264.36L541.01 1264.87L542.24 1265.36L543.47 1265.84L544.71 1266.31L545.94 1266.77L547.17 1267.23L548.40 1267.67L549.63 1268.10L550.86 1268.53L552.09 1268.95L553.32 1269.37L554.55 1269.78L555.78 1270.18L557.01 1270.58L558.24 1270.98L559.48 1271.37L560.71 1271.76L561.94 1272.15L563.17 1272.53L564.40 1272.92L565.63 1273.30L566.86 1273.69L568.09 1274.08L569.32 1274.46L570.55 1274.85L571.78 1275.24L573.01 1275.64L574.25 1276.04L575.48 1276.44L576.71 1276.84L577.94 1277.24L579.17 1277.65L580.40 1278.06L581.63 1278.48L582.86 1278.90L584.09 1279.33L585.32 1279.75L586.55 1280.19L587.78 1280.62L589.02 1281.07L590.25 1281.52L591.48 1281.97L592.71 1282.43L593.94 1282.89L595.17 1283.36L596.40 1283.84L597.63 1284.32L598.86 1284.81L600.09 1285.30L601.32 1285.80L602.55 1286.31L603.79 1286.82L605.02 1287.33L606.25 1287.84L607.48 1288.36L608.71 1288.87L609.94 1289.39L611.17 1289.90L612.40 1290.42L613.63 1290.92L614.86 1291.43L616.09 1291.93L617.32 1292.42L618.56 1292.91L619.79 1293.39L621.02 1293.86L622.25 1294.32L623.48 1294.77L624.71 1295.21L625.94 1295.64L627.17 1296.06L628.40 1296.46L629.63 1296.85L630.86 1297.22L632.09 1297.58L633.33 1297.93L634.56 1298.27L635.79 1298.60L637.02 1298.92L638.25 1299.24L639.48 1299.55L640.71 1299.85L641.94 1300.15L643.17 1300.44L644.40 1300.74L645.63 1301.03L646.86 1301.32L648.10 1301.61L649.33 1301.91L650.56 1302.21L651.79 1302.51L653.02 1302.82L654.25 1303.14L655.48 1303.46L656.71 1303.79L657.94 1304.13L659.17 1304.48L660.40 1304.84L661.63 1305.21L662.87 1305.59L664.10 1305.97L665.33 1306.36L666.56 1306.75L667.79 1307.14L669.02 1307.54L670.25 1307.93L671.48 1308.32L672.71 1308.72L673.94 1309.10L675.17 1309.49L676.40 1309.87L677.64 1310.24L678.87 1310.60L680.10 1310.95L681.33 1311.30L682.56 1311.63L683.79 1311.95L685.02 1312.26L686.25 1312.55L687.48 1312.82L688.71 1313.08L689.94 1313.33L691.17 1313.55L692.41 1313.76L693.64 1313.96L694.87 1314.14L696.10 1314.30L697.33 1314.45L698.56 1314.59L699.79 1314.72L701.02 1314.83L702.25 1314.94L703.48 1315.03L704.71 1315.11L705.94 1315.18L707.18 1315.24L708.41 1315.29L709.64 1315.34L710.87 1315.37L712.10 1315.40L713.33 1315.42L714.56 1315.44L715.79 1315.44L717.02 1315.45L718.25 1315.44L719.48 1315.44L720.71 1315.43L721.95 1315.42L723.18 1315.41L724.41 1315.41L725.64 1315.40L726.87 1315.40L728.10 1315.41L729.33 1315.43L730.56 1315.45L731.79 1315.48L733.02 1315.53L734.25 1315.59L735.48 1315.66L736.72 1315.75L737.95 1315.85L739.18 1315.98L740.41 1316.12L741.64 1316.29L742.87 1316.48L744.10 1316.69L745.33 1316.93L746.56 1317.19L747.79 1317.49L749.02 1317.81L750.25 1318.15L751.49 1318.51L752.72 1318.90L753.95 1319.29L755.18 1319.71L756.41 1320.13L757.64 1320.57L758.87 1321.01L760.10 1321.45L761.33 1321.90L762.56 1322.35L763.79 1322.79L765.02 1323.23L766.26 1323.66L767.49 1324.08L768.72 1324.49L769.95 1324.89L771.18 1325.27L772.41 1325.63L773.64 1325.97L774.87 1326.28L776.10 1326.57L777.33 1326.83L778.56 1327.06L779.79 1327.27L781.03 1327.45L782.26 1327.61L783.49 1327.76L784.72 1327.89L785.95 1328.00L787.18 1328.10L788.41 1328.19L789.64 1328.28L790.87 1328.35L792.10 1328.42L793.33 1328.49L794.56 1328.56L795.80 1328.63L797.03 1328.70L798.26 1328.78L799.49 1328.87L800.72 1328.96L801.95 1329.07L803.18 1329.19L804.41 1329.33L805.64 1329.48L806.87 1329.65L808.10 1329.85L809.33 1330.05L810.57 1330.28L811.80 1330.51L813.03 1330.76L814.26 1331.02L815.49 1331.29L816.72 1331.56L817.95 1331.84L819.18 1332.13L820.41 1332.41L821.64 1332.70L822.87 1332.98L824.10 1333.27L825.34 1333.55L826.57 1333.82L827.80 1334.09L829.03 1334.35L830.26 1334.60L831.49 1334.83L832.72 1335.05L833.95 1335.26L835.18 1335.45L836.41 1335.63L837.64 1335.78L838.87 1335.92L840.11 1336.04L841.34 1336.15L842.57 1336.24L843.80 1336.32L845.03 1336.38L846.26 1336.44L847.49 1336.48L848.72 1336.50L849.95 1336.52L851.18 1336.53L852.41 1336.53L853.64 1336.52L854.88 1336.50L856.11 1336.47L857.34 1336.44L858.57 1336.40L859.80 1336.35L861.03 1336.30L862.26 1336.25L863.49 1336.19L864.72 1336.13L865.95 1336.07L867.18 1336.01L868.41 1335.94L869.65 1335.88L870.88 1335.82L872.11 1335.76L873.34 1335.70L874.57 1335.65L875.80 1335.60L877.03 1335.55L878.26 1335.52L879.49 1335.48L880.72 1335.46L881.95 1335.44L883.18 1335.43L884.42 1335.43L885.65 1335.45L886.88 1335.47L888.11 1335.51L889.34 1335.55L890.57 1335.62L891.80 1335.69L893.03 1335.78L894.26 1335.89L895.49 1336.01L896.72 1336.15L897.95 1336.31L899.19 1336.47L900.42 1336.66L901.65 1336.85L902.88 1337.05L904.11 1337.27L905.34 1337.49L906.57 1337.72L907.80 1337.96L909.03 1338.21L910.26 1338.46L911.49 1338.72L912.72 1338.98L913.96 1339.24L915.19 1339.50L916.42 1339.77L917.65 1340.03L918.88 1340.30L920.11 1340.56L921.34 1340.82L922.57 1341.08L923.80 1341.33L925.03 1341.57L926.26 1341.82L927.49 1342.05L928.73 1342.28L929.96 1342.51L931.19 1342.73L932.42 1342.95L933.65 1343.16L934.88 1343.37L936.11 1343.58L937.34 1343.78L938.57 1343.98L939.80 1344.18L941.03 1344.37L942.26 1344.57L943.50 1344.76L944.73 1344.94L945.96 1345.13L947.19 1345.32L948.42 1345.50L949.65 1345.69L950.88 1345.87L952.11 1346.05L953.34 1346.23" fill="none" stroke="#000" stroke-width="3.3" stroke-linejoin="round"/>
<path d="M214.84 845.11L216.07 844.54L217.30 843.99L218.53 843.46L219.77 842.97L221.00 842.53L222.23 842.16L223.46 841.87L224.69 841.67L225.92 841.57L227.15 841.59L228.38 841.75L229.61 842.05L230.84 842.50L232.07 843.13L233.30 843.94L234.54 844.95L235.77 846.16L237.00 847.60L238.23 849.28L239.46 851.21L240.69 853.40L241.92 855.86L243.15 858.61L244.38 861.67L245.61 865.03L246.84 868.69L248.07 872.60L249.31 876.76L250.54 881.12L251.77 885.68L253.00 890.39L254.23 895.23L255.46 900.19L256.69 905.22L257.92 910.32L259.15 915.44L260.38 920.57L261.61 925.68L262.84 930.74L264.08 935.73L265.31 940.62L266.54 945.38L267.77 949.99L269.00 954.43L270.23 958.67L271.46 962.68L272.69 966.43L273.92 969.91L275.15 973.08L276.38 975.97L277.61 978.60L278.85 980.98L280.08 983.14L281.31 985.09L282.54 986.86L283.77 988.46L285.00 989.92L286.23 991.26L287.46 992.49L288.69 993.64L289.92 994.72L291.15 995.77L292.38 996.79L293.62 997.80L294.85 998.84L296.08 999.91L297.31 1001.04L298.54 1002.25L299.77 1003.56L301.00 1004.98L302.23 1006.54L303.46 1008.27L304.69 1010.16L305.92 1012.22L307.15 1014.42L308.39 1016.74L309.62 1019.16L310.85 1021.68L312.08 1024.26L313.31 1026.89L314.54 1029.55L315.77 1032.23L317.00 1034.90L318.23 1037.55L319.46 1040.15L320.69 1042.69L321.92 1045.16L323.16 1047.52L324.39 1049.77L325.62 1051.89L326.85 1053.85L328.08 1055.64L329.31 1057.24L330.54 1058.63L331.77 1059.79L333.00 1060.71L334.23 1061.37L335.46 1061.78L336.69 1061.95L337.93 1061.90L339.16 1061.64L340.39 1061.19L341.62 1060.56L342.85 1059.76L344.08 1058.80L345.31 1057.71L346.54 1056.49L347.77 1055.16L349.00 1053.73L350.23 1052.22L351.46 1050.64L352.70 1049.01L353.93 1047.33L355.16 1045.62L356.39 1043.90L357.62 1042.17L358.85 1040.47L360.08 1038.78L361.31 1037.14L362.54 1035.56L363.77 1034.04L365.00 1032.59L366.23 1031.21L367.47 1029.90L368.70 1028.66L369.93 1027.49L371.16 1026.40L372.39 1025.38L373.62 1024.43L374.85 1023.56L376.08 1022.76L377.31 1022.04L378.54 1021.39L379.77 1020.82L381.00 1020.33L382.24 1019.92L383.47 1019.58L384.70 1019.33L385.93 1019.15L387.16 1019.05L388.39 1019.04L389.62 1019.10L390.85 1019.25L392.08 1019.48L393.31 1019.80L394.54 1020.20L395.77 1020.68L397.01 1021.25L398.24 1021.90L399.47 1022.64L400.70 1023.46L401.93 1024.37L403.16 1025.36L404.39 1026.44L405.62 1027.61L406.85 1028.86L408.08 1030.20L409.31 1031.63L410.54 1033.15L411.78 1034.75L413.01 1036.45L414.24 1038.23L415.47 1040.10L416.70 1042.06L417.93 1044.11L419.16 1046.25L420.39 1048.48L421.62 1050.80L422.85 1053.22L424.08 1055.71L425.31 1058.29L426.55 1060.95L427.78 1063.68L429.01 1066.48L430.24 1069.35L431.47 1072.27L432.70 1075.25L433.93 1078.28L435.16 1081.35L436.39 1084.47L437.62 1087.62L438.85 1090.80L440.08 1094.02L441.32 1097.25L442.55 1100.51L443.78 1103.78L445.01 1107.06L446.24 1110.34L447.47 1113.63L448.70 1116.91L449.93 1120.19L451.16 1123.45L452.39 1126.69L453.62 1129.92L454.85 1133.12L456.09 1136.29L457.32 1139.44L458.55 1142.55L459.78 1145.62L461.01 1148.66L462.24 1151.66L463.47 1154.61L464.70 1157.51L465.93 1160.36L467.16 1163.16L468.39 1165.90L469.62 1168.58L470.86 1171.20L472.09 1173.75L473.32 1176.23L474.55 1178.64L475.78 1180.97L477.01 1183.23L478.24 1185.40L479.47 1187.49L480.70 1189.49L481.93 1191.40L483.16 1193.22L484.39 1194.95L485.63 1196.60L486.86 1198.17L488.09 1199.66L489.32 1201.08L490.55 1202.42L491.78 1203.68L493.01 1204.88L494.24 1206.01L495.47 1207.08L496.70 1208.09L497.93 1209.03L499.16 1209.92L500.40 1210.76L501.63 1211.54L502.86 1212.27L504.09 1212.96L505.32 1213.60L506.55 1214.20L507.78 1214.75L509.01 1215.27L510.24 1215.76L511.47 1216.21L512.70 1216.63L513.93 1217.02L515.17 1217.38L516.40 1217.72L517.63 1218.04L518.86 1218.33L520.09 1218.60L521.32 1218.86L522.55 1219.10L523.78 1219.32L525.01 1219.53L526.24 1219.73L527.47 1219.93L528.70 1220.11L529.94 1220.29L531.17 1220.47L532.40 1220.65L533.63 1220.82L534.86 1221.00L536.09 1221.18L537.32 1221.37L538.55 1221.57L539.78 1221.78L541.01 1222.00L542.24 1222.23L543.47 1222.47L544.71 1222.72L545.94 1222.98L547.17 1223.25L548.40 1223.53L549.63 1223.82L550.86 1224.12L552.09 1224.43L553.32 1224.75L554.55 1225.07L555.78 1225.41L557.01 1225.75L558.24 1226.10L559.48 1226.45L560.71 1226.81L561.94 1227.18L563.17 1227.55L564.40 1227.93L565.63 1228.32L566.86 1228.71L568.09 1229.10L569.32 1229.50L570.55 1229.90L571.78 1230.31L573.01 1230.72L574.25 1231.13L575.48 1231.54L576.71 1231.95L577.94 1232.37L579.17 1232.78L580.40 1233.20L581.63 1233.61L582.86 1234.02L584.09 1234.43L585.32 1234.83L586.55 1235.23L587.78 1235.63L589.02 1236.02L590.25 1236.41L591.48 1236.79L592.71 1237.17L593.94 1237.53L595.17 1237.89L596.40 1238.24L597.63 1238.59L598.86 1238.92L600.09 1239.24L601.32 1239.55L602.55 1239.86L603.79 1240.15L605.02 1240.43L606.25 1240.71L607.48 1240.98L608.71 1241.23L609.94 1241.48L611.17 1241.72L612.40 1241.95L613.63 1242.17L614.86 1242.39L616.09 1242.59L617.32 1242.79L618.56 1242.98L619.79 1243.17L621.02 1243.34L622.25 1243.51L623.48 1243.68L624.71 1243.83L625.94 1243.98L627.17 1244.12L628.40 1244.26L629.63 1244.39L630.86 1244.52L632.09 1244.63L633.33 1244.75L634.56 1244.86L635.79 1244.96L637.02 1245.05L638.25 1245.15L639.48 1245.23L640.71 1245.32L641.94 1245.39L643.17 1245.47L644.40 1245.54L645.63 1245.60L646.86 1245.66L648.10 1245.72L649.33 1245.77L650.56 1245.82L651.79 1245.87L653.02 1245.91L654.25 1245.95L655.48 1245.99L656.71 1246.03L657.94 1246.06L659.17 1246.09L660.40 1246.12L661.63 1246.15L662.87 1246.18L664.10 1246.22L665.33 1246.27L666.56 1246.32L667.79 1246.39L669.02 1246.47L670.25 1246.57L671.48 1246.68L672.71 1246.82L673.94 1246.97L675.17 1247.15L676.40 1247.35L677.64 1247.59L678.87 1247.85L680.10 1248.14L681.33 1248.47L682.56 1248.83L683.79 1249.23L685.02 1249.67L686.25 1250.15L687.48 1250.67L688.71 1251.24L689.94 1251.85L691.17 1252.50L692.41 1253.19L693.64 1253.91L694.87 1254.66L696.10 1255.45L697.33 1256.25L698.56 1257.08L699.79 1257.93L701.02 1258.80L702.25 1259.68L703.48 1260.57L704.71 1261.47L705.94 1262.37L707.18 1263.28L708.41 1264.19L709.64 1265.09L710.87 1265.99L712.10 1266.88L713.33 1267.76L714.56 1268.62L715.79 1269.46L717.02 1270.29L718.25 1271.09L719.48 1271.87L720.71 1272.63L721.95 1273.37L723.18 1274.09L724.41 1274.79L725.64 1275.47L726.87 1276.14L728.10 1276.79L729.33 1277.43L730.56 1278.06L731.79 1278.68L733.02 1279.28L734.25 1279.88L735.48 1280.46L736.72 1281.04L737.95 1281.62L739.18 1282.18L740.41 1282.75L741.64 1283.31L742.87 1283.86L744.10 1284.42L745.33 1284.98L746.56 1285.53L747.79 1286.09L749.02 1286.65L750.25 1287.22L751.49 1287.78L752.72 1288.33L753.95 1288.89L755.18 1289.44L756.41 1289.99L757.64 1290.53L758.87 1291.07L760.10 1291.60L761.33 1292.12L762.56 1292.63L763.79 1293.14L765.02 1293.63L766.26 1294.11L767.49 1294.58L768.72 1295.03L769.95 1295.47L771.18 1295.90L772.41 1296.31L773.64 1296.70L774.87 1297.08L776.10 1297.43L777.33 1297.77L778.56 1298.09L779.79 1298.38L781.03 1298.67L782.26 1298.93L783.49 1299.18L784.72 1299.42L785.95 1299.64L787.18 1299.85L788.41 1300.04L789.64 1300.23L790.87 1300.40L792.10 1300.56L793.33 1300.72L794.56 1300.86L795.80 1301.00L797.03 1301.14L798.26 1301.26L799.49 1301.38L800.72 1301.50L801.95 1301.62L803.18 1301.73L804.41 1301.84L805.64 1301.95L806.87 1302.06L808.10 1302.17L809.33 1302.28L810.57 1302.39L811.80 1302.50L813.03 1302.62L814.26 1302.74L815.49 1302.87L816.72 1302.99L817.95 1303.13L819.18 1303.27L820.41 1303.41L821.64 1303.56L822.87 1303.72L824.10 1303.88L825.34 1304.06L826.57 1304.24L827.80 1304.43L829.03 1304.63L830.26 1304.84L831.49 1305.06L832.72 1305.29L833.95 1305.53L835.18 1305.78L836.41 1306.05L837.64 1306.33L838.87 1306.62L840.11 1306.92L841.34 1307.24L842.57 1307.56L843.80 1307.89L845.03 1308.23L846.26 1308.58L847.49 1308.94L848.72 1309.31L849.95 1309.68L851.18 1310.06L852.41 1310.45L853.64 1310.84L854.88 1311.23L856.11 1311.63L857.34 1312.04L858.57 1312.45L859.80 1312.86L861.03 1313.27L862.26 1313.69L863.49 1314.11L864.72 1314.52L865.95 1314.94L867.18 1315.36L868.41 1315.78L869.65 1316.19L870.88 1316.61L872.11 1317.02L873.34 1317.42L874.57 1317.82L875.80 1318.21L877.03 1318.60L878.26 1318.98L879.49 1319.35L880.72 1319.71L881.95 1320.06L883.18 1320.40L884.42 1320.73L885.65 1321.04L886.88 1321.35L888.11 1321.63L889.34 1321.91L890.57 1322.16L891.80 1322.40L893.03 1322.62L894.26 1322.83L895.49 1323.01L896.72 1323.18L897.95 1323.33L899.19 1323.46L900.42 1323.58L901.65 1323.68L902.88 1323.76L904.11 1323.84L905.34 1323.90L906.57 1323.95L907.80 1323.99L909.03 1324.02L910.26 1324.04L911.49 1324.05L912.72 1324.05L913.96 1324.05L915.19 1324.04L916.42 1324.03L917.65 1324.01L918.88 1323.99L920.11 1323.97L921.34 1323.95L922.57 1323.92L923.80 1323.90L925.03 1323.87L926.26 1323.85L927.49 1323.83L928.73 1323.81L929.96 1323.79L931.19 1323.77L932.42 1323.75L933.65 1323.73L934.88 1323.71L936.11 1323.70L937.34 1323.68L938.57 1323.67L939.80 1323.65L941.03 1323.64L942.26 1323.62L943.50 1323.61L944.73 1323.59L945.96 1323.58L947.19 1323.57L948.42 1323.56L949.65 1323.54L950.88 1323.53L952.11 1323.52L953.34 1323.51" fill="none" stroke="#000" stroke-width="3.3" stroke-linejoin="round"/>
<path d="M273.92 832.00L275.15 832.00L276.38 832.00L277.61 832.00L278.85 832.00L280.08 832.00L281.31 832.00L282.54 832.00L283.77 832.00L285.00 832.00L286.23 832.00L287.46 832.00L288.69 832.00L289.92 832.00L291.15 832.00L292.38 832.00L293.62 832.00L294.85 832.00L296.08 832.00L297.31 832.00L298.54 832.00L299.77 832.00L301.00 832.00L302.23 832.00L303.46 832.00L304.69 832.00L305.92 832.00L307.15 832.00L308.39 832.00L309.62 832.00L310.85 832.00L312.08 832.00L313.31 832.00L314.54 832.00L315.77 832.00L317.00 832.00L318.23 832.00L319.46 832.00L320.69 832.00L321.92 832.00L323.16 832.00L324.39 832.00L325.62 832.00L326.85 832.00L328.08 832.00L329.31 832.00L330.54 832.00L331.77 832.00L333.00 832.00L334.23 832.00L335.46 832.01L336.69 832.03L337.93 832.07L339.16 832.13L340.39 832.22L341.62 832.36L342.85 832.53L344.08 832.76L345.31 833.04L346.54 833.38L347.77 833.80L349.00 834.28L350.23 834.85L351.46 835.51L352.70 836.26L353.93 837.11L355.16 838.06L356.39 839.13L357.62 840.32L358.85 841.63L360.08 843.07L361.31 844.65L362.54 846.37L363.77 848.24L365.00 850.26L366.23 852.42L367.47 854.72L368.70 857.16L369.93 859.73L371.16 862.43L372.39 865.25L373.62 868.20L374.85 871.26L376.08 874.45L377.31 877.74L378.54 881.15L379.77 884.66L381.00 888.27L382.24 891.98L383.47 895.79L384.70 899.69L385.93 903.68L387.16 907.75L388.39 911.91L389.62 916.15L390.85 920.46L392.08 924.84L393.31 929.29L394.54 933.80L395.77 938.35L397.01 942.94L398.24 947.54L399.47 952.15L400.70 956.76L401.93 961.34L403.16 965.90L404.39 970.42L405.62 974.88L406.85 979.27L408.08 983.59L409.31 987.81L410.54 991.93L411.78 995.93L413.01 999.81L414.24 1003.54L415.47 1007.12L416.70 1010.54L417.93 1013.78L419.16 1016.82L420.39 1019.67L421.62 1022.30L422.85 1024.71L424.08 1026.90L425.31 1028.91L426.55 1030.73L427.78 1032.38L429.01 1033.89L430.24 1035.27L431.47 1036.53L432.70 1037.69L433.93 1038.77L435.16 1039.77L436.39 1040.72L437.62 1041.64L438.85 1042.53L440.08 1043.41L441.32 1044.31L442.55 1045.23L443.78 1046.19L445.01 1047.21L446.24 1048.30L447.47 1049.49L448.70 1050.77L449.93 1052.18L451.16 1053.72L452.39 1055.41L453.62 1057.24L454.85 1059.22L456.09 1061.33L457.32 1063.58L458.55 1065.94L459.78 1068.43L461.01 1071.03L462.24 1073.74L463.47 1076.55L464.70 1079.47L465.93 1082.47L467.16 1085.56L468.39 1088.73L469.62 1091.98L470.86 1095.30L472.09 1098.69L473.32 1102.14L474.55 1105.64L475.78 1109.19L477.01 1112.79L478.24 1116.42L479.47 1120.09L480.70 1123.79L481.93 1127.51L483.16 1131.24L484.39 1134.99L485.63 1138.74L486.86 1142.49L488.09 1146.24L489.32 1149.97L490.55 1153.68L491.78 1157.37L493.01 1161.03L494.24 1164.65L495.47 1168.23L496.70 1171.76L497.93 1175.24L499.16 1178.66L500.40 1182.01L501.63 1185.29L502.86 1188.49L504.09 1191.61L505.32 1194.64L506.55 1197.58L507.78 1200.41L509.01 1203.14L510.24 1205.75L511.47 1208.25L512.70 1210.63L513.93 1212.90L515.17 1215.07L516.40 1217.14L517.63 1219.11L518.86 1220.99L520.09 1222.78L521.32 1224.48L522.55 1226.11L523.78 1227.67L525.01 1229.15L526.24 1230.57L527.47 1231.93L528.70 1233.24L529.94 1234.49L531.17 1235.69L532.40 1236.86L533.63 1237.98L534.86 1239.07L536.09 1240.14L537.32 1241.17L538.55 1242.19L539.78 1243.19L541.01 1244.18L542.24 1245.16L543.47 1246.13L544.71 1247.09L545.94 1248.05L547.17 1248.99L548.40 1249.93L549.63 1250.86L550.86 1251.79L552.09 1252.71L553.32 1253.63L554.55 1254.55L555.78 1255.46L557.01 1256.38L558.24 1257.29L559.48 1258.20L560.71 1259.11L561.94 1260.02L563.17 1260.94L564.40 1261.86L565.63 1262.78L566.86 1263.71L568.09 1264.64L569.32 1265.58L570.55 1266.52L571.78 1267.47L573.01 1268.43L574.25 1269.39L575.48 1270.35L576.71 1271.32L577.94 1272.29L579.17 1273.26L580.40 1274.23L581.63 1275.21L582.86 1276.18L584.09 1277.15L585.32 1278.12L586.55 1279.09L587.78 1280.06L589.02 1281.03L590.25 1281.99L591.48 1282.94L592.71 1283.89L593.94 1284.84L595.17 1285.78L596.40 1286.71L597.63 1287.63L598.86 1288.55L600.09 1289.45L601.32 1290.35L602.55 1291.24L603.79 1292.11L605.02 1292.98L606.25 1293.84L607.48 1294.69L608.71 1295.53L609.94 1296.37L611.17 1297.19L612.40 1298.00L613.63 1298.80L614.86 1299.60L616.09 1300.38L617.32 1301.15L618.56 1301.92L619.79 1302.67L621.02 1303.42L622.25 1304.15L623.48 1304.88L624.71 1305.59L625.94 1306.30L627.17 1306.99L628.40 1307.68L629.63 1308.35L630.86 1309.02L632.09 1309.67L633.33 1310.32L634.56 1310.95L635.79 1311.58L637.02 1312.19L638.25 1312.80L639.48 1313.39L640.71 1313.98L641.94 1314.56L643.17 1315.13L644.40 1315.68L645.63 1316.23L646.86 1316.77L648.10 1317.30L649.33 1317.82L650.56 1318.34L651.79 1318.84L653.02 1319.33L654.25 1319.82L655.48 1320.30L656.71 1320.77L657.94 1321.23L659.17 1321.68L660.40 1322.12L661.63 1322.56L662.87 1322.99L664.10 1323.41L665.33 1323.83L666.56 1324.25L667.79 1324.66L669.02 1325.07L670.25 1325.48L671.48 1325.89L672.71 1326.31L673.94 1326.72L675.17 1327.13L676.40 1327.55L677.64 1327.97L678.87 1328.39L680.10 1328.83L681.33 1329.26L682.56 1329.71L683.79 1330.16L685.02 1330.62L686.25 1331.09L687.48 1331.57L688.71 1332.06L689.94 1332.56L691.17 1333.07L692.41 1333.59L693.64 1334.11L694.87 1334.64L696.10 1335.18L697.33 1335.72L698.56 1336.26L699.79 1336.81L701.02 1337.35L702.25 1337.90L703.48 1338.44L704.71 1338.98L705.94 1339.52L707.18 1340.06L708.41 1340.59L709.64 1341.11L710.87 1341.62L712.10 1342.13L713.33 1342.63L714.56 1343.11L715.79 1343.59L717.02 1344.05L718.25 1344.50L719.48 1344.93L720.71 1345.35L721.95 1345.76L723.18 1346.16L724.41 1346.54L725.64 1346.91L726.87 1347.27L728.10 1347.62L729.33 1347.95L730.56 1348.28L731.79 1348.59L733.02 1348.89L734.25 1349.18L735.48 1349.46L736.72 1349.73L737.95 1349.99L739.18 1350.23L740.41 1350.47L741.64 1350.70L742.87 1350.92L744.10 1351.13L745.33 1351.33L746.56 1351.53L747.79 1351.71L749.02 1351.89L750.25 1352.06L751.49 1352.22L752.72 1352.38L753.95 1352.53L755.18 1352.69L756.41 1352.84L757.64 1352.99L758.87 1353.14L760.10 1353.29L761.33 1353.44L762.56 1353.60L763.79 1353.76L765.02 1353.93L766.26 1354.10L767.49 1354.28L768.72 1354.46L769.95 1354.66L771.18 1354.86L772.41 1355.08L773.64 1355.30L774.87 1355.54L776.10 1355.80L777.33 1356.07L778.56 1356.35L779.79 1356.64L781.03 1356.94L782.26 1357.25L783.49 1357.56L784.72 1357.88L785.95 1358.20L787.18 1358.52L788.41 1358.84L789.64 1359.16L790.87 1359.46L792.10 1359.77L793.33 1360.06L794.56 1360.34L795.80 1360.62L797.03 1360.87L798.26 1361.11L799.49 1361.33L800.72 1361.54L801.95 1361.72L803.18 1361.87L804.41 1362.01L805.64 1362.11L806.87 1362.19L808.10 1362.24L809.33 1362.26L810.57 1362.26L811.80 1362.23L813.03 1362.19L814.26 1362.12L815.49 1362.03L816.72 1361.92L817.95 1361.80L819.18 1361.66L820.41 1361.51L821.64 1361.34L822.87 1361.17L824.10 1360.98L825.34 1360.78L826.57 1360.58L827.80 1360.37L829.03 1360.15L830.26 1359.94L831.49 1359.72L832.72 1359.49L833.95 1359.27L835.18 1359.05L836.41 1358.84L837.64 1358.62L838.87 1358.41L840.11 1358.20L841.34 1358.00L842.57 1357.80L843.80 1357.61L845.03 1357.42L846.26 1357.23L847.49 1357.05L848.72 1356.87L849.95 1356.70L851.18 1356.54L852.41 1356.38L853.64 1356.22L854.88 1356.07L856.11 1355.93L857.34 1355.79L858.57 1355.67L859.80 1355.54L861.03 1355.43L862.26 1355.32L863.49 1355.21L864.72 1355.12L865.95 1355.03L867.18 1354.95L868.41 1354.88L869.65 1354.81L870.88 1354.74L872.11 1354.68L873.34 1354.63L874.57 1354.57L875.80 1354.52L877.03 1354.47L878.26 1354.42L879.49 1354.37L880.72 1354.32L881.95 1354.27L883.18 1354.22L884.42 1354.16L885.65 1354.10L886.88 1354.03L888.11 1353.96L889.34 1353.89L890.57 1353.81L891.80 1353.72L893.03 1353.62L894.26 1353.52L895.49 1353.40L896.72 1353.28L897.95 1353.16L899.19 1353.02L900.42 1352.89L901.65 1352.76L902.88 1352.63L904.11 1352.50L905.34 1352.37L906.57 1352.25L907.80 1352.14L909.03 1352.04L910.26 1351.95L911.49 1351.88L912.72 1351.81L913.96 1351.77L915.19 1351.74L916.42 1351.73L917.65 1351.75L918.88 1351.79L920.11 1351.85L921.34 1351.94L922.57 1352.06L923.80 1352.21L925.03 1352.39L926.26 1352.60L927.49 1352.83L928.73 1353.10L929.96 1353.40L931.19 1353.71L932.42 1354.06L933.65 1354.42L934.88 1354.81L936.11 1355.22L937.34 1355.64L938.57 1356.08L939.80 1356.54L941.03 1357.02L942.26 1357.50L943.50 1358.00L944.73 1358.51L945.96 1359.03L947.19 1359.55L948.42 1360.09L949.65 1360.62L950.88 1361.17L952.11 1361.71L953.34 1362.26" fill="none" stroke="#000" stroke-width="3.3" stroke-linejoin="round"/>
<rect x="206.09" y="1162.15" width="17.50" height="17.50" fill="none" stroke="#000" stroke-width="1.85"/>
<rect x="265.17" y="1113.43" width="17.50" height="17.50" fill="none" stroke="#000" stroke-width="1.85"/>
<rect x="294.71" y="1058.08" width="17.50" height="17.50" fill="none" stroke="#000" stroke-width="1.85"/>
<rect x="324.25" y="1009.13" width="17.50" height="17.50" fill="none" stroke="#000" stroke-width="1.85"/>
<rect x="353.79" y="980.00" width="17.50" height="17.50" fill="none" stroke="#000" stroke-width="1.85"/>
<rect x="383.33" y="1006.80" width="17.50" height="17.50" fill="none" stroke="#000" stroke-width="1.85"/>
<rect x="412.87" y="1030.69" width="17.50" height="17.50" fill="none" stroke="#000" stroke-width="1.85"/>
<rect x="442.41" y="1108.19" width="17.50" height="17.50" fill="none" stroke="#000" stroke-width="1.85"/>
<rect x="471.95" y="1157.14" width="17.50" height="17.50" fill="none" stroke="#000" stroke-width="1.85"/>
<rect x="501.49" y="1168.79" width="17.50" height="17.50" fill="none" stroke="#000" stroke-width="1.85"/>
<rect x="531.03" y="1170.83" width="17.50" height="17.50" fill="none" stroke="#000" stroke-width="1.85"/>
<rect x="560.57" y="1179.57" width="17.50" height="17.50" fill="none" stroke="#000" stroke-width="1.85"/>
<rect x="590.11" y="1197.05" width="17.50" height="17.50" fill="none" stroke="#000" stroke-width="1.85"/>
<rect x="619.65" y="1209.58" width="17.50" height="17.50" fill="none" stroke="#000" stroke-width="1.85"/>
<rect x="649.19" y="1222.11" width="17.50" height="17.50" fill="none" stroke="#000" stroke-width="1.85"/>
<rect x="678.73" y="1227.64" width="17.50" height="17.50" fill="none" stroke="#000" stroke-width="1.85"/>
<rect x="708.27" y="1243.09" width="17.50" height="17.50" fill="none" stroke="#000" stroke-width="1.85"/>
<rect x="737.81" y="1247.46" width="17.50" height="17.50" fill="none" stroke="#000" stroke-width="1.85"/>
<rect x="767.35" y="1257.07" width="17.50" height="17.50" fill="none" stroke="#000" stroke-width="1.85"/>
<rect x="796.89" y="1267.27" width="17.50" height="17.50" fill="none" stroke="#000" stroke-width="1.85"/>
<rect x="826.43" y="1274.84" width="17.50" height="17.50" fill="none" stroke="#000" stroke-width="1.85"/>
<rect x="855.97" y="1285.62" width="17.50" height="17.50" fill="none" stroke="#000" stroke-width="1.85"/>
<rect x="885.51" y="1291.74" width="17.50" height="17.50" fill="none" stroke="#000" stroke-width="1.85"/>
<rect x="915.05" y="1299.90" width="17.50" height="17.50" fill="none" stroke="#000" stroke-width="1.85"/>
<rect x="944.59" y="1303.10" width="17.50" height="17.50" fill="none" stroke="#000" stroke-width="1.85"/>
<circle cx="244.38" cy="931.64" r="10.00" fill="none" stroke="#000" stroke-width="1.85"/>
<circle cx="273.92" cy="1030.70" r="10.00" fill="none" stroke="#000" stroke-width="1.85"/>
<circle cx="303.46" cy="1122.18" r="10.00" fill="none" stroke="#000" stroke-width="1.85"/>
<circle cx="333.00" cy="1070.91" r="10.00" fill="none" stroke="#000" stroke-width="1.85"/>
<circle cx="362.54" cy="1096.55" r="10.00" fill="none" stroke="#000" stroke-width="1.85"/>
<circle cx="392.08" cy="1157.15" r="10.00" fill="none" stroke="#000" stroke-width="1.85"/>
<circle cx="421.62" cy="1184.53" r="10.00" fill="none" stroke="#000" stroke-width="1.85"/>
<circle cx="451.16" cy="1213.09" r="10.00" fill="none" stroke="#000" stroke-width="1.85"/>
<circle cx="480.70" cy="1258.54" r="10.00" fill="none" stroke="#000" stroke-width="1.85"/>
<circle cx="510.24" cy="1249.80" r="10.00" fill="none" stroke="#000" stroke-width="1.85"/>
<circle cx="539.78" cy="1265.53" r="10.00" fill="none" stroke="#000" stroke-width="1.85"/>
<circle cx="569.32" cy="1274.27" r="10.00" fill="none" stroke="#000" stroke-width="1.85"/>
<circle cx="598.86" cy="1284.18" r="10.00" fill="none" stroke="#000" stroke-width="1.85"/>
<circle cx="628.40" cy="1297.87" r="10.00" fill="none" stroke="#000" stroke-width="1.85"/>
<circle cx="657.94" cy="1303.11" r="10.00" fill="none" stroke="#000" stroke-width="1.85"/>
<circle cx="687.48" cy="1314.48" r="10.00" fill="none" stroke="#000" stroke-width="1.85"/>
<circle cx="717.02" cy="1315.93" r="10.00" fill="none" stroke="#000" stroke-width="1.85"/>
<circle cx="746.56" cy="1314.48" r="10.00" fill="none" stroke="#000" stroke-width="1.85"/>
<circle cx="776.10" cy="1329.33" r="10.00" fill="none" stroke="#000" stroke-width="1.85"/>
<circle cx="805.64" cy="1327.59" r="10.00" fill="none" stroke="#000" stroke-width="1.85"/>
<circle cx="835.18" cy="1337.20" r="10.00" fill="none" stroke="#000" stroke-width="1.85"/>
<circle cx="864.72" cy="1336.33" r="10.00" fill="none" stroke="#000" stroke-width="1.85"/>
<circle cx="894.26" cy="1334.29" r="10.00" fill="none" stroke="#000" stroke-width="1.85"/>
<circle cx="923.80" cy="1341.86" r="10.00" fill="none" stroke="#000" stroke-width="1.85"/>
<circle cx="953.34" cy="1346.23" r="10.00" fill="none" stroke="#000" stroke-width="1.85"/>
<polygon points="214.84,831.78 226.84,851.78 202.84,851.78" fill="none" stroke="#000" stroke-width="1.85"/>
<polygon points="244.38,818.08 256.38,838.08 232.38,838.08" fill="none" stroke="#000" stroke-width="1.85"/>
<polygon points="273.92,985.90 285.92,1005.90 261.92,1005.90" fill="none" stroke="#000" stroke-width="1.85"/>
<polygon points="303.46,977.74 315.46,997.74 291.46,997.74" fill="none" stroke="#000" stroke-width="1.85"/>
<polygon points="333.00,1072.72 345.00,1092.72 321.00,1092.72" fill="none" stroke="#000" stroke-width="1.85"/>
<polygon points="362.54,1015.62 374.54,1035.62 350.54,1035.62" fill="none" stroke="#000" stroke-width="1.85"/>
<polygon points="392.08,998.14 404.08,1018.14 380.08,1018.14" fill="none" stroke="#000" stroke-width="1.85"/>
<polygon points="421.62,1028.73 433.62,1048.73 409.62,1048.73" fill="none" stroke="#000" stroke-width="1.85"/>
<polygon points="451.16,1111.76 463.16,1131.76 439.16,1131.76" fill="none" stroke="#000" stroke-width="1.85"/>
<polygon points="480.70,1184.89 492.70,1204.89 468.70,1204.89" fill="none" stroke="#000" stroke-width="1.85"/>
<polygon points="510.24,1205.58 522.24,1225.58 498.24,1225.58" fill="none" stroke="#000" stroke-width="1.85"/>
<polygon points="539.78,1207.33 551.78,1227.33 527.78,1227.33" fill="none" stroke="#000" stroke-width="1.85"/>
<polygon points="569.32,1215.78 581.32,1235.78 557.32,1235.78" fill="none" stroke="#000" stroke-width="1.85"/>
<polygon points="598.86,1226.56 610.86,1246.56 586.86,1246.56" fill="none" stroke="#000" stroke-width="1.85"/>
<polygon points="628.40,1231.51 640.40,1251.51 616.40,1251.51" fill="none" stroke="#000" stroke-width="1.85"/>
<polygon points="657.94,1232.97 669.94,1252.97 645.94,1252.97" fill="none" stroke="#000" stroke-width="1.85"/>
<polygon points="687.48,1232.97 699.48,1252.97 675.48,1252.97" fill="none" stroke="#000" stroke-width="1.85"/>
<polygon points="717.02,1259.19 729.02,1279.19 705.02,1279.19" fill="none" stroke="#000" stroke-width="1.85"/>
<polygon points="746.56,1272.01 758.56,1292.01 734.56,1292.01" fill="none" stroke="#000" stroke-width="1.85"/>
<polygon points="776.10,1285.99 788.10,1305.99 764.10,1305.99" fill="none" stroke="#000" stroke-width="1.85"/>
<polygon points="805.64,1288.61 817.64,1308.61 793.64,1308.61" fill="none" stroke="#000" stroke-width="1.85"/>
<polygon points="835.18,1291.24 847.18,1311.24 823.18,1311.24" fill="none" stroke="#000" stroke-width="1.85"/>
<polygon points="864.72,1301.14 876.72,1321.14 852.72,1321.14" fill="none" stroke="#000" stroke-width="1.85"/>
<polygon points="894.26,1311.34 906.26,1331.34 882.26,1331.34" fill="none" stroke="#000" stroke-width="1.85"/>
<polygon points="923.80,1310.47 935.80,1330.47 911.80,1330.47" fill="none" stroke="#000" stroke-width="1.85"/>
<polygon points="953.34,1310.17 965.34,1330.17 941.34,1330.17" fill="none" stroke="#000" stroke-width="1.85"/>
<polygon points="273.92,819.40 286.52,832.00 273.92,844.60 261.32,832.00" fill="none" stroke="#000" stroke-width="1.85"/>
<polygon points="303.46,819.40 316.06,832.00 303.46,844.60 290.86,832.00" fill="none" stroke="#000" stroke-width="1.85"/>
<polygon points="333.00,819.40 345.60,832.00 333.00,844.60 320.40,832.00" fill="none" stroke="#000" stroke-width="1.85"/>
<polygon points="362.54,819.40 375.14,832.00 362.54,844.60 349.94,832.00" fill="none" stroke="#000" stroke-width="1.85"/>
<polygon points="392.08,905.64 404.68,918.24 392.08,930.84 379.48,918.24" fill="none" stroke="#000" stroke-width="1.85"/>
<polygon points="421.62,1031.50 434.22,1044.10 421.62,1056.70 409.02,1044.10" fill="none" stroke="#000" stroke-width="1.85"/>
<polygon points="451.16,1026.55 463.76,1039.15 451.16,1051.75 438.56,1039.15" fill="none" stroke="#000" stroke-width="1.85"/>
<polygon points="480.70,1109.00 493.30,1121.60 480.70,1134.20 468.10,1121.60" fill="none" stroke="#000" stroke-width="1.85"/>
<polygon points="510.24,1204.56 522.84,1217.16 510.24,1229.76 497.64,1217.16" fill="none" stroke="#000" stroke-width="1.85"/>
<polygon points="539.78,1231.66 552.38,1244.26 539.78,1256.86 527.18,1244.26" fill="none" stroke="#000" stroke-width="1.85"/>
<polygon points="569.32,1252.35 581.92,1264.95 569.32,1277.55 556.72,1264.95" fill="none" stroke="#000" stroke-width="1.85"/>
<polygon points="598.86,1276.82 611.46,1289.42 598.86,1302.02 586.26,1289.42" fill="none" stroke="#000" stroke-width="1.85"/>
<polygon points="628.40,1296.05 641.00,1308.65 628.40,1321.25 615.80,1308.65" fill="none" stroke="#000" stroke-width="1.85"/>
<polygon points="657.94,1309.45 670.54,1322.05 657.94,1334.65 645.34,1322.05" fill="none" stroke="#000" stroke-width="1.85"/>
<polygon points="687.48,1317.90 700.08,1330.50 687.48,1343.10 674.88,1330.50" fill="none" stroke="#000" stroke-width="1.85"/>
<polygon points="717.02,1332.76 729.62,1345.36 717.02,1357.96 704.42,1345.36" fill="none" stroke="#000" stroke-width="1.85"/>
<polygon points="746.56,1339.75 759.16,1352.35 746.56,1364.95 733.96,1352.35" fill="none" stroke="#000" stroke-width="1.85"/>
<polygon points="776.10,1341.79 788.70,1354.39 776.10,1366.99 763.50,1354.39" fill="none" stroke="#000" stroke-width="1.85"/>
<polygon points="805.64,1352.28 818.24,1364.88 805.64,1377.48 793.04,1364.88" fill="none" stroke="#000" stroke-width="1.85"/>
<polygon points="835.18,1346.16 847.78,1358.76 835.18,1371.36 822.58,1358.76" fill="none" stroke="#000" stroke-width="1.85"/>
<polygon points="864.72,1341.79 877.32,1354.39 864.72,1366.99 852.12,1354.39" fill="none" stroke="#000" stroke-width="1.85"/>
<polygon points="894.26,1341.79 906.86,1354.39 894.26,1366.99 881.66,1354.39" fill="none" stroke="#000" stroke-width="1.85"/>
<polygon points="923.80,1336.55 936.40,1349.15 923.80,1361.75 911.20,1349.15" fill="none" stroke="#000" stroke-width="1.85"/>
<polygon points="953.34,1349.66 965.94,1362.26 953.34,1374.86 940.74,1362.26" fill="none" stroke="#000" stroke-width="1.85"/>
<rect x="803.20" y="16.40" width="215.50" height="176.40" fill="#000"/>
<rect x="794.40" y="7.50" width="213.45" height="174.40" fill="#fff" stroke="#000" stroke-width="1.9"/>
<line x1="810.70" y1="36.80" x2="834.10" y2="36.80" stroke="#000" stroke-width="3"/>
<line x1="858.70" y1="36.80" x2="882.00" y2="36.80" stroke="#000" stroke-width="3"/>
<rect x="839.42" y="29.82" width="13.97" height="13.97" fill="#000"/>
<text transform="translate(891.00 47.20) scale(1 1.040)" class="lg" text-anchor="start" style="font-size:32.00px">CuC</text>
<line x1="810.70" y1="75.67" x2="834.10" y2="75.67" stroke="#000" stroke-width="3"/>
<line x1="858.70" y1="75.67" x2="882.00" y2="75.67" stroke="#000" stroke-width="3"/>
<circle cx="846.40" cy="75.67" r="7.81" fill="#000"/>
<text transform="translate(891.00 86.07) scale(1 1.040)" class="lg" text-anchor="start" style="font-size:32.00px">CuCZ</text>
<line x1="810.70" y1="114.54" x2="834.10" y2="114.54" stroke="#000" stroke-width="3"/>
<line x1="858.70" y1="114.54" x2="882.00" y2="114.54" stroke="#000" stroke-width="3"/>
<polygon points="846.40,103.98 855.76,119.82 837.04,119.82" fill="#000"/>
<text transform="translate(891.00 124.94) scale(1 1.040)" class="lg" text-anchor="start" style="font-size:32.00px">CuCT4</text>
<line x1="810.70" y1="153.41" x2="834.10" y2="153.41" stroke="#000" stroke-width="3"/>
<line x1="858.70" y1="153.41" x2="882.00" y2="153.41" stroke="#000" stroke-width="3"/>
<polygon points="846.40,143.58 856.23,153.41 846.40,163.24 836.57,153.41" fill="#000"/>
<text transform="translate(891.00 163.81) scale(1 1.040)" class="lg" text-anchor="start" style="font-size:32.00px">CuCT</text>
<path transform="translate(974.56 163.81) scale(0.01562 -0.01625)" d="M763 0H583V1100Q519 1041 413 982Q307 922 223 892V1059Q369 1127 479 1224Q589 1321 638 1409H763Z" fill="#000"/>
<rect x="798.90" y="795.20" width="213.50" height="175.50" fill="#000"/>
<rect x="789.90" y="786.30" width="212.10" height="173.60" fill="#fff" stroke="#000" stroke-width="1.9"/>
<line x1="806.09" y1="815.40" x2="829.32" y2="815.40" stroke="#000" stroke-width="3"/>
<line x1="853.75" y1="815.40" x2="876.89" y2="815.40" stroke="#000" stroke-width="3"/>
<rect x="835.24" y="809.10" width="12.60" height="12.60" fill="none" stroke="#000" stroke-width="1.85"/>
<text transform="translate(885.82 826.40) scale(1 1.040)" class="lg" text-anchor="start" style="font-size:31.78px">CuC</text>
<line x1="806.09" y1="854.03" x2="829.32" y2="854.03" stroke="#000" stroke-width="3"/>
<line x1="853.75" y1="854.03" x2="876.89" y2="854.03" stroke="#000" stroke-width="3"/>
<circle cx="841.54" cy="854.03" r="7.20" fill="none" stroke="#000" stroke-width="1.85"/>
<text transform="translate(885.82 865.03) scale(1 1.040)" class="lg" text-anchor="start" style="font-size:31.78px">CuCZ</text>
<line x1="806.09" y1="892.66" x2="829.32" y2="892.66" stroke="#000" stroke-width="3"/>
<line x1="853.75" y1="892.66" x2="876.89" y2="892.66" stroke="#000" stroke-width="3"/>
<polygon points="841.54,883.06 850.18,897.46 832.90,897.46" fill="none" stroke="#000" stroke-width="1.85"/>
<text transform="translate(885.82 903.66) scale(1 1.040)" class="lg" text-anchor="start" style="font-size:31.78px">CuCT4</text>
<line x1="806.09" y1="931.29" x2="829.32" y2="931.29" stroke="#000" stroke-width="3"/>
<line x1="853.75" y1="931.29" x2="876.89" y2="931.29" stroke="#000" stroke-width="3"/>
<polygon points="841.54,922.22 850.61,931.29 841.54,940.36 832.46,931.29" fill="none" stroke="#000" stroke-width="1.85"/>
<text transform="translate(885.82 942.29) scale(1 1.040)" class="lg" text-anchor="start" style="font-size:31.78px">CuCT</text>
<path transform="translate(968.80 942.29) scale(0.01552 -0.01614)" d="M763 0H583V1100Q519 1041 413 982Q307 922 223 892V1059Q369 1127 479 1224Q589 1321 638 1409H763Z" fill="#000"/>
<text transform="translate(555.60 760.80) scale(1 1.045)" class="ti" text-anchor="middle" style="font-size:32.50px">Temperature (K)</text>
<text transform="translate(552.00 1535.90) scale(1 1.045)" class="ti" text-anchor="middle" style="font-size:32.00px">Temperature (K)</text>
<text transform="translate(30.40 366.40) rotate(-90) scale(1 1.045)" class="ti" text-anchor="middle">CO conversion (%)</text>
<text transform="translate(28.30 1145.80) rotate(-90) scale(1 1.045)" class="ti" text-anchor="middle" style="font-size:31.70px">CO<tspan class="sub" dy="11.4">2</tspan><tspan dy="-11.4"> selectivity (%)</tspan></text>
</svg>
</body></html>
